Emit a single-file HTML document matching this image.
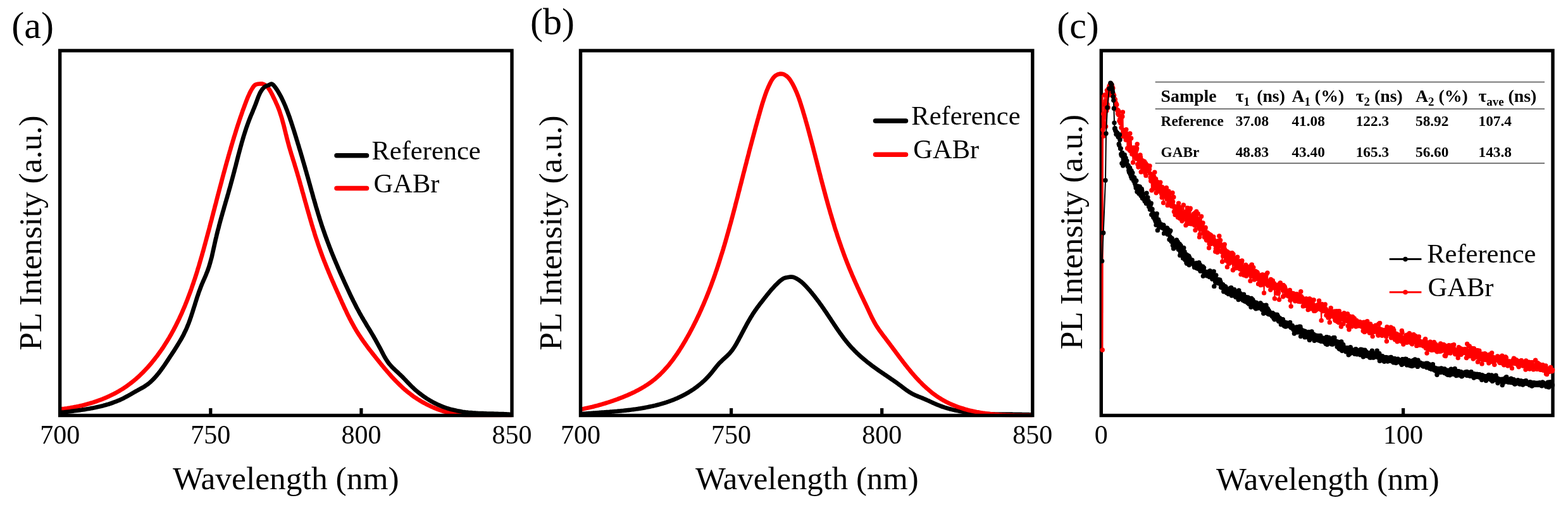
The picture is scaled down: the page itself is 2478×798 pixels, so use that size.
<!DOCTYPE html>
<html lang="en"><head><meta charset="utf-8"><title>PL and TRPL spectra</title>
<style>html,body{margin:0;padding:0;background:#fff;}body{width:2478px;height:798px;overflow:hidden;}svg{display:block;}</style>
</head><body>
<svg width="2478" height="798" viewBox="0 0 2478 798" font-family='"Liberation Serif", serif'>
<rect width="2478" height="798" fill="#fff"/>
<defs><clipPath id="ca"><rect x="92" y="77" width="719.8" height="582.2"/></clipPath><clipPath id="cb"><rect x="914.8" y="77" width="719.8" height="582.2"/></clipPath><marker id="mk" markerWidth="8" markerHeight="8" refX="4" refY="4" markerUnits="userSpaceOnUse"><circle cx="4" cy="4" r="3.7" fill="#000"/></marker><marker id="mr" markerWidth="8" markerHeight="8" refX="4" refY="4" markerUnits="userSpaceOnUse"><circle cx="4" cy="4" r="3.7" fill="#f00"/></marker></defs>
<polyline points="94.7,646.5 97.0,646.3 99.2,646.0 101.5,645.8 103.7,645.5 106.0,645.2 108.2,644.8 110.5,644.5 112.7,644.1 115.0,643.7 117.2,643.3 119.5,642.9 121.7,642.4 124.0,642.0 126.2,641.5 128.5,641.0 130.7,640.5 132.9,639.9 135.2,639.3 137.4,638.7 139.6,638.1 141.8,637.5 144.0,636.8 146.2,636.2 148.4,635.5 150.6,634.7 152.8,634.0 155.0,633.2 157.1,632.4 159.3,631.6 161.4,630.8 163.6,629.9 165.7,629.1 167.8,628.2 169.9,627.2 172.0,626.3 174.1,625.3 176.2,624.3 178.2,623.3 180.3,622.3 182.3,621.2 184.3,620.1 186.3,619.0 188.3,617.8 190.2,616.7 192.2,615.5 194.1,614.3 196.1,613.0 198.0,611.7 199.8,610.5 201.7,609.1 203.5,607.8 205.4,606.4 207.2,605.0 209.0,603.6 210.8,602.2 212.5,600.7 214.3,599.2 216.0,597.7 217.7,596.2 219.4,594.7 221.1,593.1 222.7,591.5 224.4,589.9 226.0,588.3 227.6,586.7 229.2,585.0 230.8,583.3 232.3,581.7 233.9,580.0 235.4,578.2 236.9,576.5 238.4,574.8 239.9,573.0 241.3,571.2 242.8,569.4 244.2,567.6 245.6,565.8 247.0,564.0 248.4,562.2 249.8,560.3 251.1,558.5 252.5,556.6 253.8,554.7 255.1,552.9 256.4,551.0 257.7,549.1 258.9,547.2 260.2,545.2 261.4,543.3 262.6,541.4 263.8,539.5 265.0,537.5 266.2,535.6 267.4,533.6 268.5,531.6 269.6,529.7 270.8,527.7 271.9,525.7 273.0,523.7 274.1,521.7 275.1,519.7 276.2,517.7 277.2,515.6 278.3,513.6 279.3,511.6 280.3,509.5 281.3,507.5 282.3,505.4 283.3,503.4 284.2,501.3 285.2,499.3 286.1,497.2 287.1,495.1 288.0,493.0 288.9,490.9 289.8,488.8 290.7,486.7 291.6,484.6 292.5,482.5 293.3,480.4 294.2,478.3 295.0,476.1 295.9,474.0 296.7,471.9 297.5,469.7 298.3,467.6 299.1,465.5 299.9,463.3 300.7,461.2 301.5,459.0 302.3,456.8 303.0,454.7 303.8,452.5 304.5,450.3 305.3,448.2 306.0,446.0 306.7,443.8 307.5,441.6 308.2,439.4 308.9,437.2 309.6,435.1 310.3,432.9 311.0,430.7 311.7,428.5 312.3,426.3 313.0,424.1 313.7,421.9 314.4,419.7 315.0,417.5 315.7,415.3 316.3,413.0 317.0,410.8 317.6,408.6 318.2,406.4 318.9,404.2 319.5,402.0 320.1,399.8 320.8,397.6 321.4,395.3 322.0,393.1 322.6,390.9 323.2,388.7 323.8,386.5 324.4,384.3 325.0,382.0 325.6,379.8 326.2,377.6 326.8,375.4 327.4,373.2 328.0,371.0 328.6,368.7 329.2,366.5 329.8,364.3 330.4,362.1 331.0,359.9 331.6,357.7 332.1,355.5 332.7,353.2 333.3,351.0 333.9,348.8 334.5,346.6 335.0,344.4 335.6,342.2 336.2,340.0 336.8,337.7 337.3,335.5 337.9,333.3 338.5,331.1 339.1,328.9 339.6,326.7 340.2,324.5 340.8,322.3 341.4,320.1 341.9,317.9 342.5,315.6 343.1,313.4 343.7,311.2 344.2,309.0 344.8,306.8 345.4,304.6 346.0,302.4 346.6,300.2 347.1,298.0 347.7,295.8 348.3,293.6 348.9,291.4 349.5,289.2 350.1,287.0 350.6,284.8 351.2,282.6 351.8,280.4 352.4,278.1 353.0,275.9 353.6,273.7 354.2,271.5 354.8,269.3 355.4,267.1 356.0,264.9 356.6,262.7 357.2,260.5 357.8,258.3 358.4,256.1 359.0,253.9 359.7,251.7 360.3,249.5 360.9,247.3 361.5,245.1 362.2,242.9 362.8,240.7 363.4,238.6 364.1,236.4 364.7,234.2 365.3,232.0 366.0,229.8 366.6,227.6 367.3,225.4 367.9,223.2 368.6,221.0 369.3,218.8 369.9,216.6 370.6,214.4 371.3,212.2 372.0,210.0 372.7,207.8 373.3,205.6 374.0,203.5 374.7,201.3 375.4,199.1 376.1,196.9 376.9,194.7 377.6,192.5 378.3,190.3 379.0,188.2 379.8,186.0 380.5,183.8 381.3,181.6 382.0,179.5 382.8,177.3 383.5,175.1 384.3,173.0 385.1,170.8 385.9,168.7 386.7,166.5 387.5,164.4 388.3,162.3 389.1,160.1 389.9,158.0 390.8,155.9 391.6,153.8 392.5,151.7 393.5,149.6 394.4,147.5 395.4,145.5 396.5,143.4 397.7,141.4 398.9,139.4 400.2,137.4 401.6,135.6 403.3,134.1 405.3,133.2 407.5,132.8 409.9,132.5 412.2,132.3 414.5,132.4 416.7,133.1 418.7,134.2 420.6,135.6 422.2,137.1 423.8,138.8 425.1,140.7 426.4,142.6 427.5,144.5 428.6,146.5 429.7,148.6 430.7,150.6 431.7,152.7 432.7,154.8 433.7,156.8 434.7,158.9 435.7,161.0 436.6,163.1 437.6,165.2 438.5,167.3 439.3,169.4 440.2,171.5 441.0,173.7 441.8,175.8 442.5,178.0 443.2,180.2 443.9,182.3 444.6,184.5 445.3,186.7 445.9,188.9 446.5,191.1 447.1,193.3 447.7,195.5 448.3,197.7 448.9,200.0 449.4,202.2 450.0,204.4 450.5,206.6 451.1,208.9 451.6,211.1 452.2,213.3 452.7,215.6 453.3,217.8 453.8,220.0 454.4,222.2 455.0,224.4 455.6,226.7 456.2,228.9 456.8,231.1 457.4,233.3 458.1,235.5 458.7,237.7 459.4,239.8 460.0,242.0 460.7,244.2 461.4,246.4 462.1,248.6 462.7,250.8 463.4,252.9 464.1,255.1 464.8,257.3 465.5,259.5 466.1,261.7 466.8,263.9 467.5,266.1 468.1,268.2 468.8,270.4 469.4,272.6 470.1,274.8 470.7,277.0 471.4,279.2 472.0,281.4 472.6,283.6 473.3,285.8 473.9,288.0 474.5,290.2 475.1,292.4 475.8,294.6 476.4,296.8 477.0,299.0 477.6,301.3 478.2,303.5 478.9,305.7 479.5,307.9 480.1,310.1 480.7,312.3 481.3,314.5 481.9,316.7 482.5,318.9 483.2,321.1 483.8,323.3 484.4,325.5 485.0,327.7 485.6,329.9 486.3,332.2 486.9,334.4 487.5,336.6 488.2,338.8 488.8,341.0 489.4,343.2 490.1,345.4 490.7,347.6 491.3,349.8 492.0,352.0 492.6,354.2 493.3,356.4 494.0,358.6 494.6,360.7 495.3,362.9 496.0,365.1 496.7,367.3 497.3,369.5 498.0,371.7 498.7,373.9 499.4,376.0 500.1,378.2 500.9,380.4 501.6,382.6 502.3,384.7 503.0,386.9 503.8,389.0 504.5,391.2 505.3,393.4 506.1,395.5 506.8,397.7 507.6,399.8 508.4,402.0 509.2,404.1 510.0,406.3 510.8,408.4 511.6,410.5 512.5,412.7 513.3,414.8 514.2,416.9 515.0,419.0 515.9,421.2 516.7,423.3 517.6,425.4 518.5,427.5 519.3,429.6 520.2,431.7 521.1,433.8 522.0,436.0 522.9,438.1 523.8,440.2 524.7,442.3 525.6,444.4 526.6,446.5 527.5,448.6 528.4,450.7 529.3,452.8 530.2,454.9 531.2,457.0 532.1,459.0 533.0,461.1 534.0,463.2 534.9,465.3 535.8,467.4 536.8,469.5 537.7,471.6 538.7,473.7 539.6,475.8 540.5,477.9 541.5,479.9 542.4,482.0 543.4,484.1 544.3,486.2 545.3,488.3 546.3,490.3 547.3,492.4 548.2,494.5 549.2,496.5 550.2,498.6 551.3,500.6 552.3,502.7 553.3,504.7 554.4,506.7 555.4,508.7 556.5,510.7 557.6,512.7 558.7,514.7 559.8,516.7 561.0,518.7 562.1,520.7 563.3,522.6 564.5,524.6 565.7,526.5 566.9,528.4 568.2,530.3 569.5,532.2 570.7,534.1 572.0,536.0 573.3,537.9 574.6,539.8 576.0,541.6 577.3,543.5 578.7,545.3 580.0,547.2 581.4,549.0 582.8,550.9 584.2,552.7 585.6,554.5 587.0,556.3 588.4,558.1 589.8,559.9 591.2,561.7 592.7,563.5 594.1,565.3 595.5,567.1 597.0,568.9 598.4,570.7 599.9,572.5 601.3,574.3 602.8,576.1 604.2,577.9 605.7,579.6 607.1,581.4 608.6,583.2 610.1,584.9 611.6,586.7 613.1,588.4 614.6,590.1 616.1,591.8 617.6,593.5 619.1,595.2 620.7,596.9 622.2,598.6 623.8,600.2 625.4,601.9 627.0,603.5 628.6,605.1 630.2,606.7 631.8,608.3 633.5,609.9 635.1,611.4 636.8,613.0 638.5,614.5 640.2,616.0 642.0,617.4 643.7,618.9 645.5,620.3 647.3,621.7 649.1,623.1 650.9,624.5 652.7,625.9 654.6,627.2 656.5,628.5 658.4,629.7 660.3,631.0 662.3,632.2 664.2,633.4 666.2,634.6 668.2,635.7 670.2,636.8 672.3,637.9 674.3,639.0 676.4,640.0 678.5,641.0 680.5,642.0 682.6,643.0 684.8,643.9 686.9,644.8 689.0,645.7 691.2,646.5 693.4,647.3 695.5,648.1 697.7,648.8 699.9,649.5 702.1,650.2 704.3,650.8 706.5,651.4 708.8,652.0 711.0,652.5 713.2,653.0 715.5,653.5 717.7,654.0 719.9,654.4 722.2,654.7 724.5,655.1 726.7,655.4 729.0,655.6 731.2,655.9 733.5,656.1 735.8,656.3 738.0,656.4 740.3,656.5 742.6,656.5 744.9,656.5 747.1,656.5 749.4,656.5 751.7,656.5 754.0,656.5 756.3,656.5 758.6,656.5 760.8,656.5 763.1,656.5 765.4,656.5 767.7,656.5 770.0,656.5 772.3,656.5 774.6,656.5 776.9,656.5 779.2,656.5 781.5,656.4 783.8,656.4 786.1,656.3 788.4,656.3 790.7,656.3 793.0,656.2 795.2,656.2 797.5,656.2 799.8,656.3 802.1,656.3 804.4,656.3 806.7,656.4 809.0,656.5" clip-path="url(#ca)" fill="none" stroke="#f00" stroke-width="6.7" stroke-linejoin="round"/>
<polyline points="94.7,652.2 97.0,651.9 99.2,651.6 101.5,651.4 103.7,651.1 106.0,650.8 108.3,650.5 110.5,650.2 112.8,649.9 115.1,649.6 117.4,649.3 119.6,649.0 121.9,648.7 124.2,648.4 126.5,648.1 128.8,647.8 131.0,647.4 133.3,647.1 135.6,646.7 137.9,646.3 140.1,646.0 142.4,645.6 144.7,645.1 146.9,644.7 149.2,644.3 151.4,643.8 153.7,643.3 155.9,642.8 158.2,642.3 160.4,641.7 162.6,641.2 164.8,640.6 167.0,640.0 169.2,639.3 171.4,638.7 173.6,638.0 175.8,637.3 177.9,636.5 180.1,635.7 182.2,634.9 184.3,634.1 186.5,633.2 188.6,632.4 190.6,631.4 192.7,630.5 194.8,629.5 196.8,628.4 198.9,627.3 200.9,626.2 202.9,625.1 204.9,624.0 206.9,622.8 208.9,621.6 210.9,620.5 212.9,619.3 214.9,618.2 216.9,617.1 218.9,616.0 220.9,614.9 222.9,613.8 224.9,612.7 226.9,611.6 228.8,610.4 230.7,609.1 232.6,607.8 234.4,606.5 236.2,605.0 237.9,603.5 239.6,601.9 241.3,600.3 242.9,598.6 244.5,596.9 246.0,595.2 247.5,593.5 249.0,591.7 250.5,589.9 251.9,588.1 253.3,586.3 254.6,584.5 256.0,582.6 257.3,580.8 258.6,578.9 259.9,577.1 261.2,575.2 262.4,573.3 263.7,571.4 265.0,569.5 266.2,567.6 267.5,565.7 268.7,563.7 270.0,561.8 271.3,559.9 272.5,558.0 273.8,556.1 275.1,554.1 276.3,552.2 277.6,550.2 278.8,548.3 280.0,546.3 281.2,544.4 282.4,542.4 283.6,540.4 284.8,538.4 285.9,536.5 287.1,534.5 288.2,532.4 289.3,530.4 290.3,528.4 291.3,526.3 292.3,524.3 293.3,522.2 294.3,520.1 295.2,518.0 296.1,515.9 296.9,513.8 297.8,511.7 298.6,509.6 299.4,507.4 300.2,505.3 300.9,503.1 301.7,500.9 302.4,498.8 303.1,496.6 303.8,494.4 304.5,492.2 305.2,490.0 305.9,487.8 306.6,485.6 307.3,483.5 308.0,481.3 308.6,479.1 309.3,476.9 310.0,474.7 310.7,472.5 311.4,470.3 312.1,468.1 312.9,466.0 313.6,463.8 314.3,461.6 315.1,459.5 315.9,457.3 316.7,455.2 317.5,453.0 318.4,450.9 319.2,448.8 320.1,446.7 321.0,444.6 321.9,442.5 322.9,440.4 323.8,438.3 324.7,436.2 325.6,434.0 326.4,431.9 327.3,429.8 328.1,427.7 328.9,425.5 329.6,423.4 330.4,421.2 331.0,419.0 331.7,416.8 332.3,414.6 332.9,412.4 333.5,410.2 334.1,408.0 334.7,405.8 335.2,403.5 335.7,401.3 336.2,399.0 336.7,396.8 337.2,394.6 337.7,392.3 338.2,390.1 338.7,387.8 339.2,385.6 339.7,383.3 340.2,381.1 340.7,378.8 341.2,376.6 341.8,374.3 342.3,372.1 342.8,369.9 343.4,367.7 343.9,365.4 344.5,363.2 345.1,361.0 345.7,358.8 346.2,356.5 346.8,354.3 347.4,352.1 348.0,349.9 348.6,347.7 349.2,345.5 349.8,343.3 350.5,341.1 351.1,338.9 351.7,336.7 352.3,334.5 353.0,332.3 353.6,330.1 354.2,327.9 354.8,325.7 355.5,323.5 356.1,321.3 356.7,319.1 357.4,316.9 358.0,314.7 358.7,312.5 359.3,310.3 359.9,308.1 360.6,305.9 361.2,303.7 361.8,301.5 362.4,299.3 363.1,297.1 363.7,294.9 364.3,292.7 364.9,290.4 365.5,288.2 366.1,286.0 366.7,283.8 367.3,281.6 367.9,279.4 368.5,277.2 369.1,274.9 369.7,272.7 370.3,270.5 370.8,268.3 371.4,266.0 372.0,263.8 372.6,261.6 373.1,259.4 373.7,257.1 374.3,254.9 374.8,252.7 375.4,250.5 376.0,248.2 376.5,246.0 377.1,243.8 377.7,241.6 378.3,239.3 378.9,237.1 379.5,234.9 380.1,232.7 380.7,230.5 381.3,228.3 381.9,226.1 382.5,223.9 383.2,221.7 383.8,219.5 384.5,217.3 385.1,215.1 385.8,212.9 386.5,210.7 387.2,208.5 387.9,206.4 388.6,204.2 389.3,202.0 390.1,199.9 390.8,197.7 391.6,195.6 392.4,193.4 393.2,191.3 394.0,189.1 394.8,187.0 395.7,184.9 396.5,182.8 397.4,180.7 398.3,178.6 399.2,176.5 400.0,174.3 400.9,172.2 401.8,170.1 402.6,168.0 403.5,165.8 404.3,163.7 405.1,161.5 405.9,159.3 406.7,157.1 407.5,155.0 408.3,152.8 409.2,150.7 410.1,148.6 411.1,146.5 412.2,144.6 413.4,142.7 414.8,140.8 416.3,139.1 417.9,137.6 419.8,136.3 422.0,135.4 424.2,134.7 426.3,133.6 428.3,132.7 430.1,132.9 431.9,134.2 433.5,136.1 435.1,138.1 436.4,140.0 437.7,141.9 438.9,143.8 440.1,145.8 441.2,147.7 442.4,149.7 443.4,151.7 444.5,153.7 445.5,155.8 446.5,157.9 447.5,160.0 448.5,162.1 449.4,164.2 450.3,166.3 451.2,168.4 452.0,170.5 452.9,172.7 453.7,174.8 454.5,176.9 455.3,179.1 456.1,181.2 456.9,183.4 457.7,185.5 458.4,187.7 459.1,189.9 459.9,192.0 460.6,194.2 461.3,196.4 462.0,198.6 462.7,200.7 463.4,202.9 464.1,205.1 464.8,207.3 465.5,209.5 466.1,211.6 466.8,213.8 467.5,216.0 468.2,218.2 468.8,220.4 469.5,222.6 470.2,224.8 470.8,226.9 471.5,229.1 472.2,231.3 472.8,233.5 473.5,235.7 474.2,237.9 474.8,240.1 475.5,242.3 476.1,244.5 476.8,246.7 477.4,248.9 478.0,251.1 478.7,253.3 479.3,255.5 480.0,257.7 480.6,259.9 481.2,262.1 481.9,264.3 482.5,266.5 483.1,268.7 483.8,270.9 484.4,273.2 485.0,275.4 485.6,277.6 486.3,279.8 486.9,282.0 487.5,284.2 488.1,286.4 488.7,288.6 489.3,290.8 490.0,293.1 490.6,295.3 491.2,297.5 491.8,299.7 492.4,301.9 493.1,304.1 493.7,306.3 494.3,308.5 494.9,310.8 495.5,313.0 496.2,315.2 496.8,317.4 497.4,319.6 498.1,321.8 498.7,324.0 499.3,326.2 500.0,328.4 500.6,330.6 501.3,332.8 502.0,335.0 502.6,337.2 503.3,339.4 504.0,341.6 504.6,343.8 505.3,346.0 506.0,348.2 506.7,350.3 507.4,352.5 508.1,354.7 508.8,356.9 509.5,359.0 510.3,361.2 511.0,363.4 511.8,365.5 512.5,367.7 513.3,369.9 514.0,372.0 514.8,374.2 515.6,376.3 516.4,378.5 517.2,380.6 518.0,382.8 518.8,384.9 519.6,387.0 520.4,389.2 521.2,391.3 522.1,393.4 522.9,395.6 523.7,397.7 524.6,399.8 525.4,401.9 526.3,404.1 527.2,406.2 528.0,408.3 528.9,410.4 529.8,412.5 530.7,414.6 531.6,416.7 532.5,418.8 533.4,421.0 534.3,423.1 535.2,425.2 536.1,427.3 537.0,429.4 537.9,431.5 538.9,433.6 539.8,435.7 540.7,437.7 541.7,439.8 542.6,441.9 543.6,444.0 544.5,446.1 545.5,448.2 546.4,450.3 547.4,452.4 548.4,454.5 549.3,456.5 550.3,458.6 551.3,460.7 552.2,462.8 553.2,464.9 554.2,466.9 555.2,469.0 556.2,471.1 557.2,473.1 558.2,475.2 559.3,477.3 560.3,479.3 561.3,481.3 562.4,483.4 563.4,485.4 564.5,487.5 565.6,489.5 566.7,491.5 567.7,493.5 568.8,495.5 570.0,497.5 571.1,499.5 572.2,501.5 573.4,503.4 574.5,505.4 575.7,507.4 576.9,509.3 578.1,511.3 579.2,513.2 580.4,515.2 581.6,517.1 582.8,519.1 584.0,521.0 585.2,523.0 586.3,524.9 587.5,526.9 588.7,528.9 589.8,530.8 591.0,532.8 592.1,534.8 593.3,536.8 594.4,538.8 595.5,540.8 596.6,542.8 597.7,544.8 598.8,546.8 599.9,548.9 601.0,550.9 602.1,553.0 603.1,555.0 604.2,557.1 605.2,559.1 606.3,561.2 607.4,563.2 608.6,565.2 609.7,567.2 611.0,569.1 612.2,571.0 613.5,572.9 614.9,574.7 616.4,576.4 617.9,578.1 619.4,579.8 621.0,581.4 622.7,583.0 624.4,584.6 626.1,586.2 627.8,587.7 629.5,589.3 631.1,590.9 632.8,592.5 634.5,594.1 636.1,595.7 637.7,597.3 639.3,599.0 640.9,600.6 642.4,602.3 644.0,603.9 645.6,605.6 647.2,607.2 648.8,608.9 650.4,610.5 652.0,612.1 653.7,613.6 655.4,615.2 657.1,616.7 658.9,618.2 660.7,619.7 662.5,621.1 664.3,622.5 666.1,623.9 668.0,625.3 669.8,626.6 671.7,627.9 673.7,629.2 675.6,630.5 677.5,631.7 679.5,632.9 681.5,634.0 683.5,635.1 685.5,636.2 687.6,637.3 689.6,638.3 691.7,639.3 693.8,640.2 695.9,641.1 698.0,642.0 700.1,642.8 702.3,643.6 704.4,644.4 706.6,645.1 708.8,645.8 710.9,646.4 713.1,647.1 715.4,647.6 717.6,648.1 719.8,648.6 722.0,649.1 724.3,649.5 726.5,649.9 728.8,650.3 731.0,650.7 733.3,651.0 735.6,651.3 737.9,651.5 740.1,651.8 742.4,652.0 744.7,652.2 747.0,652.4 749.3,652.5 751.6,652.7 753.9,652.8 756.3,653.0 758.6,653.1 760.9,653.2 763.2,653.2 765.5,653.3 767.8,653.4 770.1,653.5 772.5,653.5 774.8,653.6 777.1,653.6 779.4,653.7 781.7,653.8 784.0,653.8 786.3,653.9 788.6,654.0 790.9,654.0 793.2,654.1 795.4,654.2 797.7,654.3 800.0,654.4 802.2,654.5 804.5,654.7 806.7,654.8 809.0,655.0" clip-path="url(#ca)" fill="none" stroke="#000" stroke-width="6.7" stroke-linejoin="round"/>
<polyline points="917.5,654.2 919.0,654.1 920.4,654.0 921.8,653.9 923.3,653.8 924.7,653.6 926.1,653.5 927.6,653.4 929.0,653.3 930.5,653.2 931.9,653.1 933.4,653.0 934.8,652.9 936.3,652.8 937.7,652.7 939.2,652.6 940.7,652.5 942.1,652.4 943.6,652.3 945.1,652.2 946.6,652.0 948.0,651.9 949.5,651.8 951.0,651.7 952.5,651.6 954.0,651.5 955.5,651.4 956.9,651.3 958.4,651.2 959.9,651.1 961.4,651.0 962.9,650.9 964.4,650.7 965.9,650.6 967.4,650.5 968.9,650.4 970.4,650.3 971.9,650.1 973.4,650.0 974.9,649.9 976.4,649.7 977.9,649.6 979.4,649.5 980.9,649.3 982.4,649.2 983.9,649.0 985.4,648.9 986.9,648.7 988.4,648.6 989.9,648.4 991.4,648.2 992.9,648.1 994.4,647.9 995.9,647.7 997.4,647.5 998.9,647.3 1000.4,647.1 1001.9,646.9 1003.4,646.7 1004.9,646.5 1006.4,646.3 1007.9,646.1 1009.3,645.8 1010.8,645.6 1012.3,645.4 1013.8,645.1 1015.3,644.9 1016.8,644.6 1018.2,644.4 1019.7,644.1 1021.2,643.8 1022.7,643.5 1024.1,643.2 1025.6,642.9 1027.1,642.6 1028.5,642.3 1030.0,642.0 1031.4,641.7 1032.9,641.4 1034.3,641.0 1035.8,640.7 1037.2,640.3 1038.7,639.9 1040.1,639.6 1041.5,639.2 1043.0,638.8 1044.4,638.4 1045.8,638.0 1047.3,637.6 1048.7,637.1 1050.1,636.7 1051.5,636.3 1052.9,635.8 1054.3,635.3 1055.7,634.9 1057.1,634.4 1058.5,633.9 1059.9,633.4 1061.2,632.9 1062.6,632.4 1064.0,631.8 1065.4,631.3 1066.7,630.7 1068.1,630.2 1069.4,629.6 1070.8,629.0 1072.1,628.4 1073.4,627.8 1074.8,627.1 1076.1,626.5 1077.4,625.9 1078.7,625.2 1080.0,624.5 1081.3,623.9 1082.6,623.2 1083.9,622.5 1085.2,621.7 1086.5,621.0 1087.8,620.3 1089.0,619.5 1090.3,618.7 1091.5,617.9 1092.8,617.1 1094.0,616.3 1095.3,615.5 1096.5,614.7 1097.7,613.8 1098.9,613.0 1100.1,612.1 1101.3,611.2 1102.5,610.3 1103.7,609.3 1104.9,608.4 1106.0,607.5 1107.2,606.5 1108.4,605.5 1109.5,604.5 1110.6,603.5 1111.7,602.5 1112.9,601.5 1113.9,600.4 1115.0,599.4 1116.1,598.3 1117.2,597.2 1118.2,596.2 1119.2,595.1 1120.2,594.0 1121.2,592.8 1122.2,591.7 1123.2,590.6 1124.2,589.4 1125.1,588.3 1126.0,587.1 1126.9,586.0 1127.8,584.8 1128.7,583.7 1129.7,582.5 1130.6,581.3 1131.5,580.2 1132.4,579.0 1133.3,577.9 1134.3,576.8 1135.2,575.7 1136.2,574.6 1137.2,573.5 1138.2,572.4 1139.3,571.4 1140.4,570.4 1141.5,569.3 1142.6,568.3 1143.7,567.3 1144.8,566.3 1145.9,565.3 1147.0,564.3 1148.1,563.3 1149.2,562.3 1150.3,561.2 1151.3,560.2 1152.4,559.1 1153.4,558.0 1154.3,556.9 1155.3,555.7 1156.2,554.6 1157.1,553.4 1158.0,552.2 1158.8,551.0 1159.7,549.7 1160.5,548.5 1161.3,547.2 1162.1,546.0 1162.8,544.7 1163.6,543.4 1164.3,542.1 1165.0,540.8 1165.8,539.5 1166.5,538.2 1167.2,536.9 1167.9,535.5 1168.6,534.2 1169.3,532.9 1170.0,531.6 1170.7,530.3 1171.4,529.0 1172.1,527.6 1172.8,526.3 1173.5,525.0 1174.2,523.7 1174.9,522.4 1175.6,521.0 1176.3,519.7 1177.0,518.4 1177.7,517.1 1178.4,515.8 1179.1,514.5 1179.8,513.2 1180.5,511.9 1181.2,510.6 1182.0,509.3 1182.7,508.0 1183.4,506.7 1184.2,505.4 1184.9,504.1 1185.7,502.9 1186.4,501.6 1187.2,500.3 1188.0,499.1 1188.7,497.8 1189.5,496.6 1190.3,495.3 1191.1,494.1 1192.0,492.8 1192.8,491.6 1193.6,490.4 1194.5,489.2 1195.4,488.0 1196.2,486.7 1197.1,485.5 1198.0,484.4 1198.9,483.2 1199.8,482.0 1200.7,480.8 1201.6,479.6 1202.5,478.4 1203.4,477.3 1204.4,476.1 1205.3,474.9 1206.2,473.7 1207.1,472.6 1208.0,471.4 1209.0,470.2 1209.9,469.1 1210.8,467.9 1211.7,466.7 1212.7,465.6 1213.6,464.4 1214.5,463.3 1215.5,462.1 1216.4,461.0 1217.4,459.8 1218.3,458.7 1219.3,457.6 1220.3,456.5 1221.3,455.4 1222.3,454.3 1223.3,453.2 1224.3,452.1 1225.3,451.0 1226.4,450.0 1227.4,448.9 1228.5,447.9 1229.6,446.8 1230.7,445.8 1231.8,444.8 1232.9,443.8 1234.1,442.9 1235.3,442.0 1236.5,441.1 1237.7,440.3 1239.0,439.7 1240.4,439.2 1241.8,438.8 1243.3,438.5 1244.7,438.3 1246.2,438.0 1247.7,437.8 1249.1,437.6 1250.6,437.6 1252.0,437.7 1253.4,437.9 1254.8,438.4 1256.2,438.9 1257.6,439.6 1258.9,440.3 1260.2,441.0 1261.5,441.8 1262.7,442.6 1263.9,443.5 1265.1,444.4 1266.3,445.3 1267.4,446.3 1268.5,447.2 1269.6,448.3 1270.7,449.3 1271.7,450.3 1272.8,451.4 1273.8,452.5 1274.8,453.6 1275.8,454.7 1276.8,455.8 1277.8,456.9 1278.8,458.0 1279.8,459.1 1280.7,460.3 1281.7,461.4 1282.6,462.6 1283.6,463.7 1284.5,464.9 1285.5,466.0 1286.4,467.2 1287.3,468.3 1288.2,469.5 1289.1,470.7 1290.0,471.9 1290.9,473.0 1291.8,474.2 1292.7,475.4 1293.6,476.6 1294.5,477.8 1295.3,479.0 1296.2,480.2 1297.1,481.4 1297.9,482.6 1298.8,483.8 1299.7,485.1 1300.5,486.3 1301.4,487.5 1302.2,488.7 1303.0,490.0 1303.9,491.2 1304.7,492.4 1305.6,493.6 1306.4,494.9 1307.2,496.1 1308.0,497.3 1308.9,498.6 1309.7,499.8 1310.5,501.1 1311.3,502.3 1312.2,503.5 1313.0,504.8 1313.8,506.0 1314.6,507.3 1315.4,508.5 1316.3,509.7 1317.1,511.0 1317.9,512.2 1318.7,513.5 1319.6,514.7 1320.4,515.9 1321.2,517.2 1322.0,518.4 1322.9,519.6 1323.7,520.8 1324.6,522.1 1325.4,523.3 1326.3,524.5 1327.1,525.7 1328.0,526.9 1328.8,528.1 1329.7,529.3 1330.6,530.5 1331.5,531.7 1332.3,532.9 1333.2,534.1 1334.1,535.3 1335.0,536.4 1336.0,537.6 1336.9,538.8 1337.8,539.9 1338.7,541.1 1339.7,542.2 1340.6,543.3 1341.6,544.5 1342.6,545.6 1343.5,546.7 1344.5,547.8 1345.5,548.9 1346.5,550.0 1347.5,551.1 1348.6,552.1 1349.6,553.2 1350.7,554.3 1351.7,555.3 1352.8,556.4 1353.8,557.4 1354.9,558.4 1356.0,559.5 1357.1,560.5 1358.2,561.5 1359.3,562.5 1360.4,563.5 1361.5,564.5 1362.7,565.4 1363.8,566.4 1365.0,567.4 1366.1,568.3 1367.3,569.3 1368.4,570.2 1369.6,571.2 1370.7,572.1 1371.9,573.0 1373.1,574.0 1374.3,574.9 1375.5,575.8 1376.7,576.7 1377.8,577.6 1379.0,578.5 1380.2,579.4 1381.4,580.2 1382.6,581.1 1383.9,582.0 1385.1,582.9 1386.3,583.7 1387.5,584.6 1388.7,585.4 1389.9,586.3 1391.1,587.1 1392.4,587.9 1393.6,588.8 1394.8,589.6 1396.0,590.4 1397.2,591.3 1398.5,592.1 1399.7,592.9 1400.9,593.7 1402.1,594.6 1403.3,595.4 1404.6,596.2 1405.8,597.1 1407.0,597.9 1408.2,598.7 1409.4,599.6 1410.7,600.4 1411.9,601.2 1413.1,602.1 1414.3,602.9 1415.5,603.8 1416.7,604.6 1417.9,605.5 1419.1,606.4 1420.3,607.3 1421.5,608.2 1422.7,609.0 1423.9,609.9 1425.1,610.9 1426.3,611.8 1427.5,612.7 1428.7,613.6 1429.9,614.5 1431.1,615.4 1432.3,616.3 1433.6,617.1 1434.8,618.0 1436.0,618.8 1437.3,619.6 1438.5,620.4 1439.8,621.1 1441.1,621.9 1442.4,622.6 1443.7,623.2 1445.0,623.9 1446.4,624.5 1447.7,625.1 1449.1,625.6 1450.4,626.2 1451.8,626.8 1453.2,627.3 1454.5,627.9 1455.9,628.4 1457.3,629.0 1458.7,629.5 1460.0,630.1 1461.4,630.7 1462.8,631.3 1464.2,631.9 1465.5,632.5 1466.9,633.1 1468.3,633.7 1469.6,634.4 1471.0,635.0 1472.4,635.6 1473.7,636.3 1475.1,636.9 1476.5,637.5 1477.8,638.1 1479.2,638.7 1480.6,639.3 1482.0,639.8 1483.3,640.4 1484.7,640.9 1486.1,641.5 1487.5,642.0 1488.9,642.5 1490.3,643.0 1491.7,643.4 1493.1,643.9 1494.6,644.3 1496.0,644.8 1497.4,645.2 1498.8,645.6 1500.2,646.0 1501.7,646.4 1503.1,646.7 1504.5,647.1 1506.0,647.5 1507.4,647.8 1508.8,648.1 1510.3,648.4 1511.7,648.7 1513.2,649.0 1514.6,649.3 1516.1,649.6 1517.5,649.9 1519.0,650.1 1520.5,650.4 1521.9,650.6 1523.4,650.8 1524.8,651.1 1526.3,651.3 1527.8,651.5 1529.3,651.7 1530.7,651.8 1532.2,652.0 1533.7,652.2 1535.2,652.3 1536.6,652.5 1538.1,652.6 1539.6,652.8 1541.1,652.9 1542.6,653.0 1544.1,653.2 1545.5,653.3 1547.0,653.4 1548.5,653.5 1550.0,653.6 1551.5,653.7 1553.0,653.8 1554.5,653.8 1556.0,653.9 1557.5,654.0 1559.0,654.0 1560.5,654.1 1562.0,654.2 1563.5,654.2 1565.0,654.3 1566.5,654.3 1568.0,654.4 1569.4,654.4 1570.9,654.4 1572.4,654.5 1573.9,654.5 1575.4,654.5 1576.9,654.5 1578.4,654.6 1579.9,654.6 1581.4,654.6 1582.9,654.6 1584.4,654.6 1585.9,654.6 1587.4,654.7 1588.9,654.7 1590.4,654.7 1591.9,654.7 1593.4,654.7 1594.9,654.7 1596.4,654.7 1597.9,654.7 1599.4,654.7 1600.9,654.8 1602.3,654.8 1603.8,654.8 1605.3,654.8 1606.8,654.8 1608.3,654.8 1609.8,654.9 1611.2,654.9 1612.7,654.9 1614.2,654.9 1615.7,655.0 1617.2,655.0 1618.6,655.0 1620.1,655.1 1621.6,655.1 1623.0,655.1 1624.5,655.2 1626.0,655.2 1627.4,655.3 1628.9,655.4 1630.3,655.4 1631.8,655.5" clip-path="url(#cb)" fill="none" stroke="#000" stroke-width="6.7" stroke-linejoin="round"/>
<polyline points="917.5,647.0 919.8,646.5 922.1,646.1 924.4,645.6 926.7,645.1 929.0,644.6 931.3,644.0 933.5,643.5 935.8,643.0 938.0,642.4 940.3,641.8 942.5,641.3 944.8,640.7 947.0,640.0 949.2,639.4 951.5,638.8 953.7,638.1 955.9,637.5 958.1,636.8 960.3,636.1 962.5,635.4 964.7,634.7 966.9,633.9 969.1,633.2 971.3,632.4 973.5,631.6 975.7,630.8 977.8,630.0 980.0,629.2 982.2,628.3 984.4,627.5 986.5,626.6 988.7,625.7 990.9,624.8 993.0,623.9 995.2,622.9 997.3,621.9 999.5,620.9 1001.6,619.9 1003.7,618.9 1005.8,617.8 1007.9,616.8 1009.9,615.6 1012.0,614.5 1014.0,613.4 1016.1,612.2 1018.1,611.0 1020.0,609.7 1022.0,608.5 1023.9,607.2 1025.9,605.9 1027.7,604.5 1029.6,603.2 1031.5,601.8 1033.3,600.3 1035.1,598.9 1036.8,597.4 1038.6,595.9 1040.3,594.3 1042.0,592.7 1043.6,591.2 1045.3,589.5 1046.9,587.9 1048.5,586.2 1050.1,584.5 1051.6,582.8 1053.2,581.1 1054.7,579.3 1056.2,577.6 1057.7,575.8 1059.1,573.9 1060.6,572.1 1062.0,570.3 1063.4,568.4 1064.8,566.5 1066.1,564.6 1067.5,562.7 1068.8,560.8 1070.2,558.9 1071.5,556.9 1072.8,555.0 1074.0,553.0 1075.3,551.0 1076.5,549.0 1077.8,547.1 1079.0,545.0 1080.2,543.0 1081.4,541.0 1082.6,539.0 1083.8,537.0 1084.9,534.9 1086.1,532.9 1087.2,530.9 1088.4,528.8 1089.5,526.8 1090.6,524.7 1091.7,522.7 1092.8,520.6 1093.9,518.5 1095.0,516.5 1096.0,514.4 1097.1,512.3 1098.1,510.2 1099.2,508.2 1100.2,506.1 1101.2,504.0 1102.2,501.9 1103.2,499.8 1104.2,497.7 1105.2,495.6 1106.1,493.5 1107.1,491.3 1108.1,489.2 1109.0,487.1 1109.9,485.0 1110.9,482.9 1111.8,480.7 1112.7,478.6 1113.6,476.4 1114.5,474.3 1115.4,472.2 1116.3,470.0 1117.2,467.9 1118.0,465.7 1118.9,463.6 1119.7,461.4 1120.6,459.2 1121.4,457.1 1122.2,454.9 1123.1,452.7 1123.9,450.6 1124.7,448.4 1125.5,446.2 1126.3,444.0 1127.1,441.8 1127.9,439.6 1128.7,437.5 1129.4,435.3 1130.2,433.1 1130.9,430.9 1131.7,428.7 1132.5,426.5 1133.2,424.3 1133.9,422.1 1134.7,419.9 1135.4,417.6 1136.1,415.4 1136.8,413.2 1137.5,411.0 1138.2,408.8 1138.9,406.6 1139.6,404.3 1140.3,402.1 1141.0,399.9 1141.7,397.7 1142.4,395.4 1143.1,393.2 1143.7,391.0 1144.4,388.8 1145.1,386.5 1145.7,384.3 1146.4,382.0 1147.0,379.8 1147.7,377.6 1148.3,375.3 1148.9,373.1 1149.6,370.8 1150.2,368.6 1150.8,366.4 1151.5,364.1 1152.1,361.9 1152.7,359.6 1153.3,357.4 1153.9,355.1 1154.6,352.9 1155.2,350.6 1155.8,348.4 1156.4,346.1 1157.0,343.8 1157.6,341.6 1158.2,339.3 1158.8,337.1 1159.4,334.8 1160.0,332.6 1160.6,330.3 1161.2,328.1 1161.8,325.8 1162.3,323.5 1162.9,321.3 1163.5,319.0 1164.1,316.8 1164.7,314.5 1165.3,312.3 1165.9,310.0 1166.4,307.7 1167.0,305.5 1167.6,303.2 1168.2,301.0 1168.8,298.7 1169.3,296.4 1169.9,294.2 1170.5,291.9 1171.1,289.7 1171.7,287.4 1172.2,285.2 1172.8,282.9 1173.4,280.6 1174.0,278.4 1174.5,276.1 1175.1,273.9 1175.7,271.6 1176.3,269.4 1176.9,267.1 1177.4,264.8 1178.0,262.6 1178.6,260.3 1179.2,258.1 1179.8,255.8 1180.3,253.6 1180.9,251.3 1181.5,249.1 1182.1,246.8 1182.7,244.6 1183.3,242.3 1183.8,240.0 1184.4,237.8 1185.0,235.5 1185.6,233.3 1186.2,231.0 1186.8,228.8 1187.4,226.5 1188.0,224.3 1188.6,222.0 1189.2,219.8 1189.8,217.5 1190.4,215.3 1191.0,213.1 1191.6,210.8 1192.2,208.6 1192.8,206.3 1193.4,204.1 1194.0,201.8 1194.6,199.6 1195.3,197.3 1195.9,195.1 1196.5,192.9 1197.1,190.6 1197.7,188.4 1198.4,186.2 1199.0,183.9 1199.6,181.7 1200.3,179.4 1200.9,177.2 1201.5,175.0 1202.2,172.7 1202.8,170.5 1203.5,168.3 1204.1,166.1 1204.8,163.8 1205.5,161.6 1206.2,159.4 1206.9,157.2 1207.6,155.0 1208.4,152.8 1209.1,150.6 1209.9,148.4 1210.7,146.2 1211.5,144.0 1212.4,141.8 1213.3,139.7 1214.2,137.5 1215.2,135.4 1216.2,133.3 1217.2,131.1 1218.3,129.0 1219.4,127.0 1220.7,125.0 1222.1,123.1 1223.7,121.3 1225.4,119.7 1227.4,118.5 1229.4,117.5 1231.6,116.9 1233.8,116.6 1236.0,116.8 1238.1,117.3 1240.2,118.3 1242.2,119.5 1244.1,121.0 1245.8,122.7 1247.4,124.5 1248.8,126.4 1250.0,128.4 1251.2,130.4 1252.4,132.4 1253.5,134.5 1254.6,136.6 1255.6,138.7 1256.6,140.8 1257.5,142.9 1258.5,145.0 1259.4,147.1 1260.2,149.3 1261.1,151.5 1261.9,153.6 1262.7,155.8 1263.4,158.0 1264.2,160.2 1264.9,162.4 1265.6,164.6 1266.3,166.9 1267.0,169.1 1267.7,171.3 1268.4,173.5 1269.1,175.8 1269.7,178.0 1270.4,180.2 1271.1,182.5 1271.7,184.7 1272.4,186.9 1273.0,189.2 1273.6,191.4 1274.3,193.7 1274.9,195.9 1275.5,198.1 1276.2,200.4 1276.8,202.6 1277.4,204.9 1278.0,207.1 1278.6,209.4 1279.2,211.6 1279.8,213.9 1280.4,216.1 1281.0,218.4 1281.6,220.6 1282.2,222.9 1282.8,225.1 1283.4,227.4 1284.0,229.6 1284.6,231.9 1285.2,234.1 1285.7,236.4 1286.3,238.6 1286.9,240.9 1287.5,243.2 1288.1,245.4 1288.6,247.7 1289.2,249.9 1289.8,252.2 1290.4,254.4 1291.0,256.7 1291.5,258.9 1292.1,261.2 1292.7,263.5 1293.3,265.7 1293.8,268.0 1294.4,270.2 1295.0,272.5 1295.6,274.7 1296.2,277.0 1296.8,279.3 1297.3,281.5 1297.9,283.8 1298.5,286.0 1299.1,288.3 1299.7,290.5 1300.3,292.8 1300.9,295.0 1301.5,297.3 1302.1,299.5 1302.7,301.8 1303.3,304.0 1303.9,306.3 1304.5,308.5 1305.1,310.8 1305.7,313.0 1306.3,315.3 1307.0,317.5 1307.6,319.8 1308.2,322.0 1308.8,324.2 1309.5,326.5 1310.1,328.7 1310.8,331.0 1311.4,333.2 1312.0,335.4 1312.7,337.7 1313.4,339.9 1314.0,342.1 1314.7,344.4 1315.3,346.6 1316.0,348.8 1316.7,351.0 1317.4,353.3 1318.1,355.5 1318.7,357.7 1319.4,359.9 1320.1,362.2 1320.8,364.4 1321.6,366.6 1322.3,368.8 1323.0,371.0 1323.7,373.2 1324.4,375.4 1325.2,377.6 1325.9,379.8 1326.7,382.0 1327.4,384.2 1328.2,386.4 1329.0,388.6 1329.7,390.8 1330.5,393.0 1331.3,395.2 1332.1,397.4 1332.9,399.6 1333.7,401.8 1334.5,404.0 1335.3,406.1 1336.1,408.3 1337.0,410.5 1337.8,412.6 1338.6,414.8 1339.5,417.0 1340.4,419.1 1341.2,421.3 1342.1,423.5 1343.0,425.6 1343.9,427.8 1344.8,429.9 1345.7,432.1 1346.6,434.2 1347.5,436.4 1348.5,438.5 1349.4,440.6 1350.3,442.8 1351.3,444.9 1352.2,447.0 1353.2,449.2 1354.2,451.3 1355.1,453.4 1356.1,455.5 1357.1,457.6 1358.1,459.8 1359.0,461.9 1360.0,464.0 1361.0,466.1 1362.0,468.2 1363.0,470.3 1364.0,472.4 1365.0,474.5 1366.0,476.6 1367.0,478.7 1368.0,480.8 1369.0,482.9 1370.0,485.0 1371.0,487.1 1372.0,489.2 1372.9,491.3 1373.9,493.4 1374.9,495.5 1375.9,497.6 1376.9,499.7 1377.9,501.8 1379.0,503.8 1380.0,505.9 1381.1,507.9 1382.2,510.0 1383.4,512.0 1384.5,514.0 1385.8,516.0 1387.1,517.9 1388.4,519.9 1389.7,521.8 1391.1,523.7 1392.5,525.6 1393.9,527.5 1395.3,529.4 1396.7,531.3 1398.2,533.2 1399.6,535.0 1401.0,536.9 1402.4,538.8 1403.8,540.6 1405.2,542.5 1406.6,544.3 1408.0,546.2 1409.4,548.0 1410.8,549.9 1412.1,551.7 1413.5,553.6 1414.9,555.4 1416.2,557.3 1417.6,559.1 1419.0,561.0 1420.3,562.8 1421.7,564.6 1423.1,566.5 1424.5,568.3 1425.9,570.1 1427.3,572.0 1428.7,573.8 1430.1,575.6 1431.5,577.4 1433.0,579.2 1434.4,581.1 1435.9,582.9 1437.4,584.7 1438.9,586.5 1440.4,588.3 1441.9,590.1 1443.5,591.9 1445.0,593.7 1446.6,595.4 1448.2,597.2 1449.8,598.9 1451.4,600.6 1453.0,602.3 1454.7,604.0 1456.4,605.7 1458.0,607.4 1459.7,609.0 1461.4,610.6 1463.2,612.2 1464.9,613.8 1466.7,615.3 1468.4,616.8 1470.2,618.3 1472.0,619.8 1473.9,621.3 1475.7,622.7 1477.6,624.0 1479.5,625.4 1481.4,626.7 1483.3,628.0 1485.2,629.2 1487.2,630.5 1489.2,631.6 1491.2,632.8 1493.2,633.9 1495.2,635.0 1497.3,636.0 1499.3,637.0 1501.4,638.0 1503.5,638.9 1505.6,639.8 1507.7,640.7 1509.9,641.5 1512.0,642.4 1514.2,643.2 1516.4,643.9 1518.6,644.6 1520.8,645.3 1523.0,646.0 1525.2,646.7 1527.4,647.3 1529.7,647.9 1531.9,648.5 1534.2,649.0 1536.5,649.5 1538.8,650.0 1541.0,650.5 1543.3,651.0 1545.7,651.4 1548.0,651.8 1550.3,652.2 1552.6,652.6 1554.9,652.9 1557.3,653.2 1559.6,653.5 1561.9,653.8 1564.3,654.1 1566.6,654.4 1569.0,654.6 1571.3,654.8 1573.7,655.0 1576.0,655.2 1578.4,655.4 1580.7,655.5 1583.1,655.7 1585.4,655.8 1587.8,655.9 1590.1,656.1 1592.5,656.2 1594.8,656.2 1597.2,656.3 1599.5,656.4 1601.8,656.4 1604.2,656.5 1606.5,656.5 1608.8,656.5 1611.1,656.5 1613.4,656.5 1615.7,656.5 1618.0,656.5 1620.3,656.5 1622.6,656.5 1624.9,656.5 1627.1,656.5 1629.4,656.5 1631.6,656.5" clip-path="url(#cb)" fill="none" stroke="#f00" stroke-width="6.7" stroke-linejoin="round"/>
<rect x="1740.3" y="80.0" width="713.7" height="576.5" fill="none" stroke="#000" stroke-width="5.4"/>
<line x1="1742" y1="553" x2="1742.3" y2="150" stroke="#f00" stroke-width="2.6"/>
<polyline points="1742.2,553.0 1743.0,205.0 1743.5,180.0 1744.0,215.0 1744.6,165.0 1745.2,195.0 1745.8,150.0 1746.4,185.0 1747.0,160.0 1747.6,200.0 1748.2,150.0 1748.8,175.0 1749.4,143.0 1750.0,165.0 1750.6,148.0 1751.2,170.0 1751.8,140.0 1752.4,150.0 1753.0,136.0 1753.6,146.0 1754.2,134.0 1754.8,150.0 1755.4,132.0 1756.0,142.0 1757.0,134.3 1757.6,136.2 1758.2,139.3 1758.8,139.3 1759.4,148.4 1760.0,150.6 1760.6,150.5 1761.2,156.0 1761.8,157.4 1762.4,157.3 1763.0,168.4 1763.6,163.0 1764.2,165.3 1764.8,165.4 1765.4,173.9 1766.0,173.4 1766.6,179.5 1767.2,174.7 1767.8,181.6 1768.4,176.7 1769.0,191.2 1769.6,188.6 1770.2,191.8 1770.8,194.5 1771.4,184.1 1772.0,201.8 1772.6,215.0 1773.2,183.4 1773.8,184.3 1774.4,177.2 1775.0,210.6 1775.6,205.8 1776.2,215.7 1776.8,214.1 1777.4,211.0 1778.0,213.1 1778.6,210.5 1779.2,221.0 1779.8,204.8 1780.4,212.4 1781.0,219.6 1781.6,234.5 1782.2,213.3 1782.8,211.8 1783.4,217.6 1784.0,232.2 1784.6,222.9 1785.2,237.6 1785.8,211.0 1786.4,238.2 1787.0,238.5 1787.6,218.4 1788.2,233.2 1788.8,243.5 1789.4,234.8 1790.0,243.8 1790.6,256.8 1791.2,239.8 1791.8,236.2 1792.4,233.1 1793.0,246.4 1793.6,240.3 1794.2,241.6 1794.8,243.3 1795.4,250.8 1796.0,237.3 1796.6,234.4 1797.2,227.8 1797.8,259.6 1798.4,251.0 1799.0,264.1 1799.6,252.1 1800.2,246.8 1800.8,257.9 1801.4,254.0 1802.0,244.9 1802.6,248.7 1803.2,271.7 1803.8,262.9 1804.4,261.7 1805.0,256.6 1805.6,253.7 1806.2,267.6 1806.8,259.9 1807.4,255.1 1808.0,260.1 1808.6,255.2 1809.2,265.0 1809.8,273.5 1810.4,257.9 1811.0,277.4 1811.6,260.8 1812.2,268.4 1812.8,261.0 1813.4,267.0 1814.0,270.2 1814.6,267.2 1815.2,266.1 1815.8,267.4 1816.4,267.3 1817.0,262.3 1817.6,274.2 1818.2,280.8 1818.8,286.0 1819.4,285.0 1820.0,300.8 1820.6,284.5 1821.2,279.2 1821.8,299.1 1822.4,276.4 1823.0,293.6 1823.6,278.9 1824.2,290.2 1824.8,272.3 1825.4,296.2 1826.0,288.5 1826.6,282.7 1827.2,304.7 1827.8,298.1 1828.4,293.0 1829.0,287.4 1829.6,293.7 1830.2,293.4 1830.8,301.2 1831.4,302.4 1832.0,291.4 1832.6,293.1 1833.2,293.9 1833.8,288.1 1834.4,294.8 1835.0,299.4 1835.6,306.3 1836.2,312.0 1836.8,295.8 1837.4,307.2 1838.0,300.0 1838.6,320.5 1839.2,304.3 1839.8,309.3 1840.4,298.6 1841.0,300.2 1841.6,308.7 1842.2,304.8 1842.8,311.2 1843.4,296.8 1844.0,314.8 1844.6,303.3 1845.2,324.4 1845.8,309.4 1846.4,320.9 1847.0,302.3 1847.6,317.2 1848.2,307.8 1848.8,311.7 1849.4,316.5 1850.0,314.8 1850.6,320.3 1851.2,325.2 1851.8,325.8 1852.4,321.4 1853.0,304.7 1853.6,318.7 1854.2,324.7 1854.8,311.4 1855.4,334.6 1856.0,328.3 1856.6,329.3 1857.2,339.4 1857.8,338.1 1858.4,335.3 1859.0,326.6 1859.6,338.7 1860.2,337.5 1860.8,328.5 1861.4,343.3 1862.0,339.5 1862.6,321.1 1863.2,337.1 1863.8,326.9 1864.4,345.1 1865.0,342.8 1865.6,328.7 1866.2,330.5 1866.8,338.2 1867.4,335.9 1868.0,349.3 1868.6,343.7 1869.2,336.4 1869.8,343.1 1870.4,324.0 1871.0,341.8 1871.6,346.3 1872.2,338.9 1872.8,335.3 1873.4,345.2 1874.0,355.9 1874.6,343.1 1875.2,333.6 1875.8,353.0 1876.4,328.5 1877.0,346.5 1877.6,338.7 1878.2,350.1 1878.8,337.1 1879.4,353.4 1880.0,345.9 1880.6,331.0 1881.2,329.3 1881.8,341.7 1882.4,353.8 1883.0,345.3 1883.6,344.9 1884.2,342.8 1884.8,350.2 1885.4,347.7 1886.0,347.2 1886.6,338.0 1887.2,354.4 1887.8,356.0 1888.4,336.6 1889.0,363.7 1889.6,352.5 1890.2,344.1 1890.8,334.2 1891.4,353.7 1892.0,353.6 1892.6,345.8 1893.2,337.7 1893.8,359.8 1894.4,348.0 1895.0,349.6 1895.6,374.6 1896.2,370.2 1896.8,362.4 1897.4,353.1 1898.0,362.1 1898.6,342.0 1899.2,360.5 1899.8,355.6 1900.4,353.1 1901.0,352.3 1901.6,368.8 1902.2,366.9 1902.8,368.7 1903.4,374.8 1904.0,364.0 1904.6,362.4 1905.2,359.5 1905.8,370.6 1906.4,379.2 1907.0,373.5 1907.6,379.8 1908.2,367.8 1908.8,373.5 1909.4,372.1 1910.0,369.4 1910.6,391.7 1911.2,385.3 1911.8,370.4 1912.4,375.2 1913.0,380.7 1913.6,371.6 1914.2,385.2 1914.8,373.7 1915.4,380.6 1916.0,376.5 1916.6,380.8 1917.2,375.3 1917.8,374.1 1918.4,378.7 1919.0,381.0 1919.6,384.1 1920.2,387.0 1920.8,397.4 1921.4,392.9 1922.0,385.9 1922.6,393.0 1923.2,383.7 1923.8,398.8 1924.4,393.1 1925.0,380.5 1925.6,395.5 1926.2,396.4 1926.8,373.0 1927.4,386.7 1928.0,389.1 1928.6,379.8 1929.2,386.2 1929.8,387.6 1930.4,398.0 1931.0,397.2 1931.6,413.5 1932.2,393.6 1932.8,404.7 1933.4,398.0 1934.0,399.8 1934.6,390.8 1935.2,386.3 1935.8,394.6 1936.4,405.5 1937.0,411.6 1937.6,405.7 1938.2,405.6 1938.8,397.2 1939.4,421.9 1940.0,413.1 1940.6,401.2 1941.2,405.0 1941.8,399.3 1942.4,416.3 1943.0,409.8 1943.6,407.1 1944.2,411.0 1944.8,411.8 1945.4,406.7 1946.0,401.8 1946.6,402.1 1947.2,399.7 1947.8,414.7 1948.4,426.8 1949.0,401.7 1949.6,414.3 1950.2,416.6 1950.8,408.0 1951.4,417.3 1952.0,408.2 1952.6,423.7 1953.2,412.4 1953.8,417.4 1954.4,421.6 1955.0,414.8 1955.6,406.3 1956.2,414.9 1956.8,423.6 1957.4,418.5 1958.0,420.9 1958.6,412.8 1959.2,421.1 1959.8,425.2 1960.4,421.1 1961.0,433.5 1961.6,420.3 1962.2,415.3 1962.8,412.0 1963.4,430.2 1964.0,422.8 1964.6,430.1 1965.2,426.9 1965.8,434.8 1966.4,432.9 1967.0,422.8 1967.6,427.4 1968.2,433.0 1968.8,418.6 1969.4,436.1 1970.0,434.9 1970.6,433.8 1971.2,426.7 1971.8,430.2 1972.4,421.6 1973.0,429.3 1973.6,425.6 1974.2,430.1 1974.8,426.8 1975.4,433.4 1976.0,443.9 1976.6,422.5 1977.2,436.9 1977.8,418.8 1978.4,418.1 1979.0,431.2 1979.6,432.3 1980.2,435.3 1980.8,422.6 1981.4,432.8 1982.0,434.3 1982.6,441.8 1983.2,433.6 1983.8,437.9 1984.4,428.8 1985.0,434.1 1985.6,432.9 1986.2,440.4 1986.8,430.2 1987.4,431.6 1988.0,440.7 1988.6,448.6 1989.2,440.2 1989.8,440.1 1990.4,436.5 1991.0,445.8 1991.6,442.7 1992.2,450.5 1992.8,442.2 1993.4,434.7 1994.0,437.4 1994.6,435.3 1995.2,434.0 1995.8,449.9 1996.4,447.5 1997.0,435.3 1997.6,462.9 1998.2,445.2 1998.8,438.2 1999.4,446.8 2000.0,444.4 2000.6,440.5 2001.2,433.8 2001.8,446.3 2002.4,449.6 2003.0,431.1 2003.6,450.6 2004.2,451.3 2004.8,445.1 2005.4,449.0 2006.0,447.0 2006.6,444.0 2007.2,447.3 2007.8,458.0 2008.4,441.4 2009.0,451.9 2009.6,452.0 2010.2,447.0 2010.8,448.9 2011.4,443.5 2012.0,447.1 2012.6,452.7 2013.2,454.9 2013.8,447.9 2014.4,471.8 2015.0,450.5 2015.6,455.0 2016.2,453.2 2016.8,452.5 2017.4,462.9 2018.0,452.6 2018.6,463.7 2019.2,462.9 2019.8,450.2 2020.4,462.8 2021.0,453.1 2021.6,473.5 2022.2,455.3 2022.8,447.9 2023.4,446.9 2024.0,450.8 2024.6,455.3 2025.2,453.2 2025.8,452.1 2026.4,455.6 2027.0,458.7 2027.6,468.7 2028.2,450.5 2028.8,457.6 2029.4,455.5 2030.0,452.5 2030.6,454.3 2031.2,456.7 2031.8,466.5 2032.4,461.4 2033.0,459.7 2033.6,466.7 2034.2,465.1 2034.8,462.4 2035.4,466.2 2036.0,459.5 2036.6,468.2 2037.2,467.6 2037.8,462.8 2038.4,458.4 2039.0,474.6 2039.6,466.6 2040.2,484.1 2040.8,462.9 2041.4,471.9 2042.0,464.8 2042.6,469.1 2043.2,472.7 2043.8,463.6 2044.4,468.0 2045.0,469.8 2045.6,469.8 2046.2,472.9 2046.8,475.7 2047.4,474.9 2048.0,471.9 2048.6,468.7 2049.2,464.6 2049.8,467.1 2050.4,468.6 2051.0,475.8 2051.6,470.2 2052.2,465.5 2052.8,476.4 2053.4,468.6 2054.0,469.1 2054.6,472.5 2055.2,476.7 2055.8,460.7 2056.4,468.3 2057.0,475.9 2057.6,473.2 2058.2,470.6 2058.8,472.8 2059.4,483.9 2060.0,473.8 2060.6,480.7 2061.2,481.4 2061.8,474.7 2062.4,480.0 2063.0,475.2 2063.6,474.6 2064.2,472.0 2064.8,483.4 2065.4,476.6 2066.0,475.9 2066.6,473.0 2067.2,489.6 2067.8,483.9 2068.4,479.3 2069.0,476.4 2069.6,472.0 2070.2,482.4 2070.8,482.6 2071.4,473.4 2072.0,487.9 2072.6,486.0 2073.2,476.6 2073.8,479.0 2074.4,480.0 2075.0,483.5 2075.6,482.0 2076.2,474.0 2076.8,491.4 2077.4,485.2 2078.0,490.7 2078.6,490.9 2079.2,483.0 2079.8,486.3 2080.4,488.7 2081.0,489.1 2081.6,484.2 2082.2,482.0 2082.8,485.8 2083.4,481.5 2084.0,483.0 2084.6,475.2 2085.2,487.0 2085.8,481.2 2086.4,484.1 2087.0,487.1 2087.6,489.3 2088.2,506.4 2088.8,489.3 2089.4,480.8 2090.0,489.4 2090.6,485.8 2091.2,491.5 2091.8,485.9 2092.4,486.1 2093.0,487.5 2093.6,487.1 2094.2,481.0 2094.8,487.6 2095.4,491.4 2096.0,498.3 2096.6,490.6 2097.2,490.5 2097.8,495.9 2098.4,496.0 2099.0,502.0 2099.6,496.9 2100.2,494.0 2100.8,501.6 2101.4,509.4 2102.0,492.6 2102.6,496.2 2103.2,486.8 2103.8,494.1 2104.4,491.7 2105.0,495.5 2105.6,494.4 2106.2,496.4 2106.8,497.0 2107.4,500.5 2108.0,499.4 2108.6,495.5 2109.2,491.9 2109.8,505.5 2110.4,506.7 2111.0,497.1 2111.6,502.7 2112.2,492.0 2112.8,492.0 2113.4,499.0 2114.0,508.4 2114.6,495.4 2115.2,496.7 2115.8,509.7 2116.4,491.6 2117.0,505.1 2117.6,504.4 2118.2,501.0 2118.8,503.2 2119.4,516.1 2120.0,496.8 2120.6,501.2 2121.2,501.7 2121.8,499.6 2122.4,496.3 2123.0,511.7 2123.6,504.8 2124.2,494.7 2124.8,500.3 2125.4,506.2 2126.0,506.4 2126.6,497.0 2127.2,504.1 2127.8,506.1 2128.4,507.0 2129.0,507.1 2129.6,495.9 2130.2,515.0 2130.8,506.7 2131.4,515.1 2132.0,520.7 2132.6,505.3 2133.2,499.9 2133.8,510.9 2134.4,505.7 2135.0,504.5 2135.6,501.7 2136.2,515.9 2136.8,505.1 2137.4,500.4 2138.0,505.5 2138.6,502.1 2139.2,509.0 2139.8,506.3 2140.4,503.3 2141.0,511.9 2141.6,505.8 2142.2,513.0 2142.8,516.0 2143.4,506.5 2144.0,506.8 2144.6,511.3 2145.2,515.0 2145.8,510.8 2146.4,511.7 2147.0,511.1 2147.6,513.1 2148.2,514.9 2148.8,508.5 2149.4,509.9 2150.0,512.9 2150.6,509.4 2151.2,513.7 2151.8,516.0 2152.4,513.4 2153.0,510.8 2153.6,510.2 2154.2,523.1 2154.8,518.9 2155.4,509.2 2156.0,510.9 2156.6,524.6 2157.2,523.1 2157.8,516.4 2158.4,521.8 2159.0,508.9 2159.6,516.5 2160.2,520.4 2160.8,507.7 2161.4,513.3 2162.0,521.2 2162.6,523.2 2163.2,514.9 2163.8,519.4 2164.4,526.1 2165.0,516.5 2165.6,512.0 2166.2,518.5 2166.8,517.1 2167.4,525.6 2168.0,520.2 2168.6,515.6 2169.2,531.5 2169.8,517.5 2170.4,522.5 2171.0,523.6 2171.6,524.3 2172.2,521.5 2172.8,523.7 2173.4,520.7 2174.0,514.3 2174.6,520.3 2175.2,520.6 2175.8,520.9 2176.4,522.6 2177.0,519.1 2177.6,528.7 2178.2,530.1 2178.8,512.0 2179.4,522.9 2180.0,519.5 2180.6,510.5 2181.2,525.3 2181.8,520.5 2182.4,521.9 2183.0,520.7 2183.6,529.3 2184.2,530.2 2184.8,525.7 2185.4,527.9 2186.0,524.2 2186.6,525.6 2187.2,521.5 2187.8,525.4 2188.4,522.0 2189.0,527.4 2189.6,529.8 2190.2,527.5 2190.8,531.9 2191.4,539.2 2192.0,516.5 2192.6,526.8 2193.2,524.2 2193.8,523.2 2194.4,520.8 2195.0,527.9 2195.6,526.4 2196.2,524.8 2196.8,526.8 2197.4,525.4 2198.0,517.3 2198.6,533.7 2199.2,527.3 2199.8,524.4 2200.4,530.6 2201.0,526.2 2201.6,519.2 2202.2,533.8 2202.8,521.9 2203.4,529.0 2204.0,530.8 2204.6,536.7 2205.2,536.1 2205.8,531.5 2206.4,527.3 2207.0,529.1 2207.6,536.4 2208.2,539.8 2208.8,534.2 2209.4,528.8 2210.0,536.8 2210.6,530.4 2211.2,530.4 2211.8,531.2 2212.4,535.4 2213.0,534.1 2213.6,537.6 2214.2,539.2 2214.8,535.7 2215.4,522.6 2216.0,525.8 2216.6,534.5 2217.2,533.7 2217.8,544.1 2218.4,534.1 2219.0,533.7 2219.6,539.0 2220.2,539.7 2220.8,533.8 2221.4,537.3 2222.0,530.0 2222.6,531.0 2223.2,541.2 2223.8,529.2 2224.4,540.1 2225.0,539.1 2225.6,539.7 2226.2,540.5 2226.8,539.1 2227.4,526.8 2228.0,528.5 2228.6,534.2 2229.2,541.3 2229.8,532.1 2230.4,534.2 2231.0,535.9 2231.6,543.7 2232.2,531.3 2232.8,531.8 2233.4,541.0 2234.0,528.6 2234.6,540.0 2235.2,536.6 2235.8,531.6 2236.4,537.1 2237.0,530.9 2237.6,540.0 2238.2,541.1 2238.8,546.4 2239.4,539.7 2240.0,540.4 2240.6,537.5 2241.2,540.2 2241.8,545.2 2242.4,531.9 2243.0,543.8 2243.6,538.6 2244.2,541.5 2244.8,542.8 2245.4,545.4 2246.0,542.8 2246.6,540.2 2247.2,543.6 2247.8,542.4 2248.4,541.7 2249.0,543.7 2249.6,546.9 2250.2,543.8 2250.8,544.1 2251.4,537.9 2252.0,543.2 2252.6,535.8 2253.2,550.0 2253.8,540.3 2254.4,550.4 2255.0,558.1 2255.6,543.3 2256.2,551.2 2256.8,547.3 2257.4,543.2 2258.0,542.2 2258.6,548.6 2259.2,552.4 2259.8,548.1 2260.4,540.1 2261.0,542.3 2261.6,546.1 2262.2,553.2 2262.8,548.7 2263.4,549.1 2264.0,553.1 2264.6,547.1 2265.2,547.8 2265.8,547.6 2266.4,540.8 2267.0,550.7 2267.6,550.7 2268.2,553.3 2268.8,544.0 2269.4,545.8 2270.0,553.5 2270.6,551.0 2271.2,555.7 2271.8,546.1 2272.4,550.9 2273.0,547.2 2273.6,551.6 2274.2,548.2 2274.8,552.7 2275.4,555.2 2276.0,553.5 2276.6,542.9 2277.2,554.9 2277.8,552.8 2278.4,546.5 2279.0,547.3 2279.6,551.2 2280.2,553.7 2280.8,549.4 2281.4,544.4 2282.0,552.7 2282.6,552.3 2283.2,562.1 2283.8,546.2 2284.4,562.6 2285.0,559.3 2285.6,553.2 2286.2,559.1 2286.8,552.5 2287.4,556.3 2288.0,549.1 2288.6,552.6 2289.2,548.0 2289.8,545.7 2290.4,551.3 2291.0,549.7 2291.6,555.0 2292.2,558.1 2292.8,552.0 2293.4,553.0 2294.0,553.7 2294.6,545.8 2295.2,554.1 2295.8,553.1 2296.4,552.9 2297.0,548.5 2297.6,544.8 2298.2,552.3 2298.8,554.7 2299.4,559.2 2300.0,558.3 2300.6,559.8 2301.2,555.3 2301.8,558.7 2302.4,553.0 2303.0,556.6 2303.6,558.0 2304.2,565.5 2304.8,555.2 2305.4,548.8 2306.0,560.2 2306.6,551.0 2307.2,554.2 2307.8,553.3 2308.4,550.8 2309.0,560.3 2309.6,557.3 2310.2,552.3 2310.8,555.2 2311.4,553.2 2312.0,557.7 2312.6,553.6 2313.2,552.0 2313.8,552.6 2314.4,553.6 2315.0,556.7 2315.6,551.7 2316.2,555.3 2316.8,557.6 2317.4,565.6 2318.0,559.5 2318.6,543.4 2319.2,553.9 2319.8,554.5 2320.4,557.6 2321.0,562.9 2321.6,559.5 2322.2,546.9 2322.8,557.9 2323.4,557.2 2324.0,558.6 2324.6,562.6 2325.2,552.5 2325.8,561.8 2326.4,550.4 2327.0,557.6 2327.6,559.1 2328.2,567.1 2328.8,554.8 2329.4,550.8 2330.0,560.9 2330.6,555.4 2331.2,564.8 2331.8,555.6 2332.4,555.1 2333.0,564.0 2333.6,559.4 2334.2,563.4 2334.8,553.6 2335.4,571.9 2336.0,557.5 2336.6,563.5 2337.2,556.2 2337.8,554.2 2338.4,559.8 2339.0,561.8 2339.6,567.8 2340.2,563.0 2340.8,564.7 2341.4,564.7 2342.0,574.9 2342.6,559.2 2343.2,567.9 2343.8,562.4 2344.4,564.3 2345.0,561.3 2345.6,568.5 2346.2,558.9 2346.8,558.9 2347.4,563.6 2348.0,560.0 2348.6,567.7 2349.2,568.8 2349.8,562.3 2350.4,568.7 2351.0,563.1 2351.6,565.7 2352.2,566.1 2352.8,573.7 2353.4,566.4 2354.0,560.1 2354.6,563.1 2355.2,571.6 2355.8,560.4 2356.4,565.3 2357.0,565.8 2357.6,557.8 2358.2,565.7 2358.8,571.7 2359.4,568.8 2360.0,564.4 2360.6,570.8 2361.2,570.3 2361.8,576.3 2362.4,565.6 2363.0,567.1 2363.6,568.9 2364.2,568.3 2364.8,569.3 2365.4,568.7 2366.0,566.5 2366.6,563.0 2367.2,567.2 2367.8,564.1 2368.4,565.6 2369.0,567.6 2369.6,571.8 2370.2,573.3 2370.8,566.0 2371.4,571.4 2372.0,573.4 2372.6,570.2 2373.2,564.1 2373.8,562.2 2374.4,573.8 2375.0,574.3 2375.6,571.9 2376.2,566.9 2376.8,576.7 2377.4,575.9 2378.0,571.1 2378.6,570.5 2379.2,563.9 2379.8,574.5 2380.4,565.5 2381.0,574.4 2381.6,574.7 2382.2,572.3 2382.8,578.1 2383.4,570.9 2384.0,574.5 2384.6,575.4 2385.2,573.4 2385.8,570.9 2386.4,577.3 2387.0,574.3 2387.6,572.0 2388.2,572.2 2388.8,573.4 2389.4,581.8 2390.0,573.5 2390.6,572.3 2391.2,569.2 2391.8,568.7 2392.4,566.2 2393.0,574.4 2393.6,573.7 2394.2,569.8 2394.8,568.1 2395.4,572.6 2396.0,572.0 2396.6,569.0 2397.2,575.3 2397.8,574.8 2398.4,574.1 2399.0,577.3 2399.6,572.0 2400.2,579.7 2400.8,570.9 2401.4,576.7 2402.0,577.3 2402.6,574.0 2403.2,576.4 2403.8,570.3 2404.4,569.6 2405.0,574.6 2405.6,572.7 2406.2,577.8 2406.8,575.8 2407.4,578.1 2408.0,577.1 2408.6,576.8 2409.2,576.5 2409.8,574.9 2410.4,574.6 2411.0,584.1 2411.6,570.0 2412.2,576.0 2412.8,580.6 2413.4,578.5 2414.0,582.3 2414.6,579.2 2415.2,572.6 2415.8,576.2 2416.4,572.3 2417.0,581.3 2417.6,583.1 2418.2,576.3 2418.8,580.0 2419.4,576.6 2420.0,572.9 2420.6,576.7 2421.2,572.6 2421.8,576.5 2422.4,579.5 2423.0,581.5 2423.6,583.8 2424.2,577.9 2424.8,580.1 2425.4,580.9 2426.0,581.5 2426.6,569.2 2427.2,576.9 2427.8,582.8 2428.4,575.9 2429.0,581.1 2429.6,583.3 2430.2,573.5 2430.8,579.8 2431.4,581.5 2432.0,580.8 2432.6,575.4 2433.2,582.3 2433.8,579.2 2434.4,584.3 2435.0,583.0 2435.6,579.6 2436.2,582.4 2436.8,579.4 2437.4,579.5 2438.0,576.5 2438.6,581.5 2439.2,585.3 2439.8,583.0 2440.4,582.4 2441.0,580.6 2441.6,581.1 2442.2,585.8 2442.8,577.9 2443.4,590.8 2444.0,583.3 2444.6,591.5 2445.2,588.0 2445.8,582.5 2446.4,586.8 2447.0,585.2 2447.6,586.1 2448.2,587.4 2448.8,582.8 2449.4,582.7 2450.0,583.6 2450.6,580.4 2451.2,584.4 2451.8,586.3 2452.4,586.6 2453.0,586.5 2453.6,584.6" fill="none" stroke="#f00" stroke-width="2" stroke-linejoin="round" marker-start="url(#mr)" marker-mid="url(#mr)" marker-end="url(#mr)"/>
<polyline points="1741.6,412.6 1743.7,368.0 1747.0,285.0 1748.0,211.0 1750.0,170.0 1753.0,140.0 1755.0,131.3 1755.6,132.2 1756.2,133.1 1756.8,133.6 1757.4,138.8 1758.0,142.2 1758.6,145.5 1759.2,152.7 1759.8,158.5 1760.4,171.3 1761.0,194.1 1761.6,203.2 1762.2,202.7 1762.8,206.6 1763.4,207.2 1764.0,212.3 1764.6,211.4 1765.2,211.0 1765.8,209.9 1766.4,213.3 1767.0,216.1 1767.6,216.7 1768.2,227.5 1768.8,229.6 1769.4,212.8 1770.0,220.9 1770.6,234.6 1771.2,234.8 1771.8,243.4 1772.4,245.8 1773.0,258.3 1773.6,241.4 1774.2,246.9 1774.8,261.7 1775.4,254.9 1776.0,255.9 1776.6,250.2 1777.2,244.7 1777.8,255.7 1778.4,256.2 1779.0,249.6 1779.6,253.5 1780.2,257.9 1780.8,254.1 1781.4,260.0 1782.0,262.2 1782.6,263.2 1783.2,261.5 1783.8,268.9 1784.4,271.9 1785.0,270.2 1785.6,265.3 1786.2,275.2 1786.8,269.9 1787.4,278.9 1788.0,269.7 1788.6,282.0 1789.2,278.3 1789.8,273.1 1790.4,279.5 1791.0,283.0 1791.6,285.7 1792.2,280.4 1792.8,281.3 1793.4,289.8 1794.0,287.7 1794.6,292.9 1795.2,297.0 1795.8,285.5 1796.4,296.8 1797.0,303.0 1797.6,295.9 1798.2,294.2 1798.8,303.4 1799.4,301.6 1800.0,305.9 1800.6,300.2 1801.2,295.0 1801.8,302.6 1802.4,302.1 1803.0,309.3 1803.6,307.1 1804.2,298.4 1804.8,301.5 1805.4,313.2 1806.0,312.9 1806.6,306.8 1807.2,310.9 1807.8,314.0 1808.4,314.9 1809.0,317.7 1809.6,315.2 1810.2,313.7 1810.8,314.0 1811.4,321.5 1812.0,305.2 1812.6,316.9 1813.2,318.6 1813.8,311.9 1814.4,321.8 1815.0,317.6 1815.6,326.3 1816.2,322.2 1816.8,327.2 1817.4,331.1 1818.0,327.9 1818.6,322.9 1819.2,321.1 1819.8,339.3 1820.4,331.6 1821.0,330.4 1821.6,336.4 1822.2,336.5 1822.8,343.5 1823.4,341.1 1824.0,342.5 1824.6,340.3 1825.2,347.3 1825.8,341.0 1826.4,350.3 1827.0,355.5 1827.6,341.5 1828.2,337.7 1828.8,353.7 1829.4,363.9 1830.0,347.4 1830.6,347.0 1831.2,356.7 1831.8,350.4 1832.4,352.7 1833.0,354.2 1833.6,359.1 1834.2,355.2 1834.8,359.1 1835.4,357.6 1836.0,354.9 1836.6,358.0 1837.2,355.4 1837.8,360.5 1838.4,355.5 1839.0,356.1 1839.6,368.8 1840.2,362.0 1840.8,362.4 1841.4,365.6 1842.0,361.6 1842.6,362.1 1843.2,366.6 1843.8,366.5 1844.4,360.2 1845.0,370.3 1845.6,364.2 1846.2,362.8 1846.8,364.4 1847.4,367.9 1848.0,378.6 1848.6,366.5 1849.2,374.1 1849.8,364.6 1850.4,376.0 1851.0,381.5 1851.6,377.4 1852.2,376.8 1852.8,382.0 1853.4,387.8 1854.0,385.9 1854.6,392.7 1855.2,385.2 1855.8,382.0 1856.4,384.5 1857.0,385.2 1857.6,386.4 1858.2,386.0 1858.8,387.3 1859.4,379.1 1860.0,390.8 1860.6,384.7 1861.2,382.2 1861.8,390.9 1862.4,394.3 1863.0,391.0 1863.6,390.0 1864.2,385.5 1864.8,403.6 1865.4,398.8 1866.0,387.9 1866.6,391.1 1867.2,396.8 1867.8,391.1 1868.4,400.5 1869.0,399.2 1869.6,407.9 1870.2,407.5 1870.8,391.8 1871.4,404.7 1872.0,397.8 1872.6,410.4 1873.2,406.6 1873.8,408.7 1874.4,402.0 1875.0,415.2 1875.6,416.4 1876.2,403.2 1876.8,410.0 1877.4,405.9 1878.0,409.3 1878.6,404.4 1879.2,418.8 1879.8,407.0 1880.4,410.6 1881.0,414.7 1881.6,410.4 1882.2,412.9 1882.8,412.2 1883.4,414.7 1884.0,410.9 1884.6,414.7 1885.2,416.3 1885.8,416.3 1886.4,418.6 1887.0,417.5 1887.6,422.5 1888.2,418.3 1888.8,419.5 1889.4,417.6 1890.0,418.5 1890.6,415.7 1891.2,423.7 1891.8,416.9 1892.4,418.9 1893.0,424.0 1893.6,424.5 1894.2,421.4 1894.8,414.9 1895.4,425.6 1896.0,425.3 1896.6,418.6 1897.2,428.4 1897.8,422.6 1898.4,421.2 1899.0,426.9 1899.6,426.3 1900.2,428.4 1900.8,421.3 1901.4,436.2 1902.0,426.5 1902.6,423.1 1903.2,432.7 1903.8,429.1 1904.4,432.4 1905.0,430.0 1905.6,431.6 1906.2,433.3 1906.8,429.5 1907.4,435.8 1908.0,431.3 1908.6,429.9 1909.2,434.4 1909.8,436.0 1910.4,433.5 1911.0,431.1 1911.6,437.6 1912.2,428.0 1912.8,431.3 1913.4,436.1 1914.0,430.6 1914.6,436.7 1915.2,436.6 1915.8,441.1 1916.4,434.0 1917.0,435.7 1917.6,440.1 1918.2,429.0 1918.8,452.4 1919.4,437.2 1920.0,437.6 1920.6,444.6 1921.2,441.5 1921.8,434.9 1922.4,445.3 1923.0,446.7 1923.6,441.9 1924.2,443.2 1924.8,446.8 1925.4,441.7 1926.0,447.8 1926.6,447.4 1927.2,444.5 1927.8,442.2 1928.4,447.6 1929.0,445.6 1929.6,453.8 1930.2,451.0 1930.8,454.2 1931.4,452.2 1932.0,453.3 1932.6,449.6 1933.2,455.8 1933.8,460.7 1934.4,452.8 1935.0,452.2 1935.6,454.3 1936.2,453.5 1936.8,453.0 1937.4,456.7 1938.0,455.5 1938.6,462.7 1939.2,457.4 1939.8,459.1 1940.4,461.9 1941.0,457.4 1941.6,464.6 1942.2,456.8 1942.8,456.5 1943.4,458.5 1944.0,459.9 1944.6,455.2 1945.2,460.9 1945.8,454.8 1946.4,467.1 1947.0,461.7 1947.6,459.8 1948.2,459.1 1948.8,460.3 1949.4,462.4 1950.0,459.6 1950.6,457.5 1951.2,463.5 1951.8,462.5 1952.4,468.5 1953.0,469.6 1953.6,465.5 1954.2,467.6 1954.8,460.9 1955.4,468.9 1956.0,466.6 1956.6,468.9 1957.2,473.5 1957.8,458.9 1958.4,468.9 1959.0,464.0 1959.6,470.8 1960.2,463.8 1960.8,467.3 1961.4,470.3 1962.0,472.2 1962.6,470.4 1963.2,467.4 1963.8,468.7 1964.4,474.5 1965.0,471.4 1965.6,465.3 1966.2,475.2 1966.8,473.9 1967.4,476.0 1968.0,471.7 1968.6,476.4 1969.2,469.5 1969.8,476.0 1970.4,470.8 1971.0,477.0 1971.6,478.5 1972.2,470.0 1972.8,475.1 1973.4,475.7 1974.0,480.4 1974.6,478.9 1975.2,471.9 1975.8,478.5 1976.4,479.8 1977.0,485.3 1977.6,471.4 1978.2,475.9 1978.8,483.2 1979.4,473.5 1980.0,474.3 1980.6,481.0 1981.2,483.2 1981.8,477.2 1982.4,482.0 1983.0,480.8 1983.6,486.3 1984.2,480.9 1984.8,487.8 1985.4,478.2 1986.0,481.2 1986.6,481.8 1987.2,486.7 1987.8,485.0 1988.4,480.4 1989.0,486.0 1989.6,486.7 1990.2,483.8 1990.8,483.6 1991.4,484.2 1992.0,479.0 1992.6,486.2 1993.2,486.8 1993.8,483.1 1994.4,489.3 1995.0,481.9 1995.6,485.3 1996.2,485.9 1996.8,495.2 1997.4,482.6 1998.0,490.8 1998.6,492.5 1999.2,490.8 1999.8,494.1 2000.4,486.5 2001.0,482.3 2001.6,493.6 2002.2,487.0 2002.8,490.4 2003.4,487.8 2004.0,496.1 2004.6,495.8 2005.2,490.5 2005.8,496.7 2006.4,494.3 2007.0,493.7 2007.6,494.8 2008.2,494.2 2008.8,497.5 2009.4,496.8 2010.0,494.8 2010.6,500.0 2011.2,494.6 2011.8,498.2 2012.4,499.0 2013.0,503.1 2013.6,496.5 2014.2,504.8 2014.8,499.7 2015.4,498.8 2016.0,497.5 2016.6,502.3 2017.2,500.8 2017.8,497.1 2018.4,497.5 2019.0,499.9 2019.6,499.8 2020.2,506.4 2020.8,507.7 2021.4,506.4 2022.0,505.0 2022.6,502.7 2023.2,504.8 2023.8,508.0 2024.4,512.7 2025.0,508.9 2025.6,505.2 2026.2,506.7 2026.8,505.3 2027.4,504.7 2028.0,507.1 2028.6,508.8 2029.2,514.8 2029.8,509.1 2030.4,514.0 2031.0,515.7 2031.6,510.4 2032.2,515.9 2032.8,513.3 2033.4,509.9 2034.0,512.6 2034.6,512.1 2035.2,511.6 2035.8,512.1 2036.4,513.6 2037.0,515.0 2037.6,510.9 2038.2,514.2 2038.8,509.5 2039.4,515.8 2040.0,517.4 2040.6,516.2 2041.2,517.0 2041.8,518.4 2042.4,514.6 2043.0,516.4 2043.6,519.2 2044.2,521.2 2044.8,519.6 2045.4,527.0 2046.0,518.7 2046.6,522.6 2047.2,523.9 2047.8,519.7 2048.4,517.8 2049.0,517.0 2049.6,521.7 2050.2,525.1 2050.8,522.7 2051.4,522.8 2052.0,521.3 2052.6,524.7 2053.2,516.3 2053.8,524.3 2054.4,524.0 2055.0,516.3 2055.6,531.5 2056.2,520.4 2056.8,521.7 2057.4,521.6 2058.0,529.3 2058.6,523.2 2059.2,528.4 2059.8,528.5 2060.4,527.7 2061.0,523.0 2061.6,525.4 2062.2,532.9 2062.8,523.8 2063.4,525.5 2064.0,527.8 2064.6,531.1 2065.2,529.5 2065.8,531.3 2066.4,525.8 2067.0,532.3 2067.6,531.4 2068.2,524.7 2068.8,534.8 2069.4,537.3 2070.0,527.9 2070.6,530.7 2071.2,535.0 2071.8,526.2 2072.4,524.8 2073.0,523.9 2073.6,529.6 2074.2,529.7 2074.8,533.6 2075.4,532.7 2076.0,528.1 2076.6,533.9 2077.2,538.2 2077.8,536.2 2078.4,535.7 2079.0,532.9 2079.6,536.0 2080.2,530.1 2080.8,535.6 2081.4,533.2 2082.0,537.1 2082.6,535.2 2083.2,530.6 2083.8,534.5 2084.4,538.1 2085.0,531.0 2085.6,532.9 2086.2,532.5 2086.8,530.4 2087.4,538.2 2088.0,539.4 2088.6,538.1 2089.2,536.5 2089.8,535.8 2090.4,536.9 2091.0,534.1 2091.6,539.3 2092.2,540.0 2092.8,539.8 2093.4,535.5 2094.0,537.6 2094.6,537.1 2095.2,543.2 2095.8,538.5 2096.4,532.5 2097.0,539.6 2097.6,544.3 2098.2,540.9 2098.8,541.7 2099.4,539.3 2100.0,533.4 2100.6,534.1 2101.2,536.1 2101.8,539.7 2102.4,541.2 2103.0,542.5 2103.6,539.6 2104.2,543.8 2104.8,540.3 2105.4,539.2 2106.0,544.1 2106.6,539.0 2107.2,533.8 2107.8,539.0 2108.4,542.7 2109.0,533.5 2109.6,541.8 2110.2,542.1 2110.8,539.1 2111.4,539.2 2112.0,542.4 2112.6,542.4 2113.2,548.0 2113.8,545.6 2114.4,540.1 2115.0,542.5 2115.6,547.4 2116.2,551.1 2116.8,547.0 2117.4,547.0 2118.0,551.9 2118.6,546.6 2119.2,546.1 2119.8,539.9 2120.4,546.1 2121.0,554.2 2121.6,544.0 2122.2,548.5 2122.8,544.7 2123.4,549.5 2124.0,552.0 2124.6,549.0 2125.2,552.1 2125.8,552.4 2126.4,551.9 2127.0,555.8 2127.6,553.4 2128.2,550.6 2128.8,549.8 2129.4,549.7 2130.0,553.7 2130.6,551.7 2131.2,560.7 2131.8,558.4 2132.4,552.8 2133.0,552.7 2133.6,558.7 2134.2,548.8 2134.8,553.1 2135.4,557.3 2136.0,552.2 2136.6,553.6 2137.2,554.2 2137.8,557.2 2138.4,555.9 2139.0,556.8 2139.6,557.5 2140.2,556.1 2140.8,559.2 2141.4,554.2 2142.0,552.4 2142.6,551.6 2143.2,552.2 2143.8,555.3 2144.4,559.8 2145.0,557.6 2145.6,555.5 2146.2,554.3 2146.8,556.0 2147.4,556.4 2148.0,556.1 2148.6,553.8 2149.2,556.6 2149.8,560.8 2150.4,552.1 2151.0,557.5 2151.6,552.4 2152.2,558.9 2152.8,556.4 2153.4,552.9 2154.0,559.0 2154.6,563.8 2155.2,559.2 2155.8,562.2 2156.4,559.0 2157.0,553.3 2157.6,560.7 2158.2,558.3 2158.8,555.6 2159.4,561.9 2160.0,560.6 2160.6,558.5 2161.2,562.5 2161.8,557.8 2162.4,562.1 2163.0,557.9 2163.6,562.1 2164.2,557.7 2164.8,564.9 2165.4,561.7 2166.0,565.1 2166.6,559.0 2167.2,560.1 2167.8,563.9 2168.4,554.3 2169.0,559.0 2169.6,564.8 2170.2,563.4 2170.8,565.0 2171.4,561.7 2172.0,564.2 2172.6,560.8 2173.2,559.2 2173.8,558.5 2174.4,561.8 2175.0,561.9 2175.6,561.9 2176.2,554.2 2176.8,558.5 2177.4,562.6 2178.0,565.0 2178.6,562.8 2179.2,562.2 2179.8,558.5 2180.4,570.2 2181.0,562.0 2181.6,569.6 2182.2,569.4 2182.8,566.2 2183.4,564.1 2184.0,566.1 2184.6,562.8 2185.2,566.7 2185.8,566.2 2186.4,567.7 2187.0,568.9 2187.6,571.2 2188.2,565.7 2188.8,569.6 2189.4,564.9 2190.0,564.7 2190.6,565.6 2191.2,564.8 2191.8,570.1 2192.4,570.1 2193.0,571.1 2193.6,567.8 2194.2,568.7 2194.8,566.6 2195.4,565.3 2196.0,569.6 2196.6,569.2 2197.2,565.8 2197.8,570.3 2198.4,564.4 2199.0,568.6 2199.6,567.5 2200.2,567.9 2200.8,566.6 2201.4,572.0 2202.0,571.1 2202.6,572.8 2203.2,570.2 2203.8,566.6 2204.4,569.1 2205.0,567.1 2205.6,571.5 2206.2,573.6 2206.8,571.4 2207.4,569.1 2208.0,569.8 2208.6,571.4 2209.2,567.2 2209.8,571.5 2210.4,571.7 2211.0,569.9 2211.6,570.3 2212.2,571.9 2212.8,569.5 2213.4,569.6 2214.0,573.8 2214.6,572.4 2215.2,576.3 2215.8,569.5 2216.4,567.6 2217.0,574.6 2217.6,574.7 2218.2,570.5 2218.8,568.7 2219.4,572.4 2220.0,568.1 2220.6,571.8 2221.2,567.2 2221.8,572.2 2222.4,567.5 2223.0,572.3 2223.6,576.9 2224.2,572.4 2224.8,575.1 2225.4,571.6 2226.0,571.0 2226.6,569.5 2227.2,576.1 2227.8,573.3 2228.4,577.7 2229.0,570.6 2229.6,573.1 2230.2,573.9 2230.8,577.4 2231.4,578.5 2232.0,572.3 2232.6,571.1 2233.2,569.6 2233.8,577.5 2234.4,574.0 2235.0,572.6 2235.6,574.2 2236.2,567.9 2236.8,570.1 2237.4,576.9 2238.0,575.6 2238.6,575.0 2239.2,572.2 2239.8,576.3 2240.4,579.4 2241.0,569.3 2241.6,575.1 2242.2,574.0 2242.8,576.1 2243.4,575.3 2244.0,575.0 2244.6,573.3 2245.2,575.5 2245.8,574.1 2246.4,575.4 2247.0,575.7 2247.6,577.6 2248.2,574.6 2248.8,575.4 2249.4,579.0 2250.0,575.8 2250.6,575.9 2251.2,578.8 2251.8,577.4 2252.4,577.1 2253.0,577.6 2253.6,574.1 2254.2,578.5 2254.8,580.8 2255.4,579.2 2256.0,574.1 2256.6,578.8 2257.2,576.1 2257.8,577.9 2258.4,579.0 2259.0,576.0 2259.6,582.4 2260.2,579.2 2260.8,581.5 2261.4,581.4 2262.0,583.3 2262.6,583.2 2263.2,576.9 2263.8,580.8 2264.4,575.8 2265.0,580.1 2265.6,583.1 2266.2,583.8 2266.8,584.9 2267.4,581.1 2268.0,583.6 2268.6,582.7 2269.2,585.7 2269.8,586.7 2270.4,582.2 2271.0,592.3 2271.6,583.4 2272.2,582.7 2272.8,585.2 2273.4,585.7 2274.0,585.3 2274.6,582.7 2275.2,587.8 2275.8,584.6 2276.4,588.3 2277.0,588.1 2277.6,581.9 2278.2,582.7 2278.8,582.8 2279.4,585.9 2280.0,585.6 2280.6,586.2 2281.2,583.8 2281.8,586.9 2282.4,589.3 2283.0,583.0 2283.6,585.8 2284.2,586.9 2284.8,586.2 2285.4,586.1 2286.0,590.9 2286.6,589.8 2287.2,588.9 2287.8,585.3 2288.4,592.4 2289.0,588.2 2289.6,586.1 2290.2,586.8 2290.8,586.5 2291.4,592.7 2292.0,588.3 2292.6,588.1 2293.2,583.1 2293.8,589.9 2294.4,585.9 2295.0,585.8 2295.6,589.9 2296.2,586.6 2296.8,590.6 2297.4,591.4 2298.0,584.8 2298.6,588.7 2299.2,582.6 2299.8,589.1 2300.4,591.4 2301.0,586.3 2301.6,593.6 2302.2,588.9 2302.8,587.0 2303.4,589.5 2304.0,591.6 2304.6,586.8 2305.2,590.0 2305.8,586.9 2306.4,592.9 2307.0,590.8 2307.6,589.3 2308.2,592.7 2308.8,587.5 2309.4,589.6 2310.0,594.8 2310.6,590.4 2311.2,593.8 2311.8,591.2 2312.4,589.3 2313.0,590.4 2313.6,591.2 2314.2,590.1 2314.8,589.2 2315.4,589.4 2316.0,587.9 2316.6,591.5 2317.2,592.2 2317.8,593.1 2318.4,587.4 2319.0,593.4 2319.6,591.6 2320.2,588.5 2320.8,592.0 2321.4,593.6 2322.0,593.1 2322.6,593.6 2323.2,594.1 2323.8,594.1 2324.4,592.1 2325.0,587.6 2325.6,590.6 2326.2,593.2 2326.8,591.4 2327.4,594.1 2328.0,594.4 2328.6,592.9 2329.2,597.0 2329.8,590.8 2330.4,595.1 2331.0,592.1 2331.6,591.5 2332.2,594.7 2332.8,592.1 2333.4,595.5 2334.0,591.1 2334.6,593.9 2335.2,592.1 2335.8,593.5 2336.4,593.4 2337.0,591.8 2337.6,595.9 2338.2,591.8 2338.8,592.5 2339.4,596.8 2340.0,597.1 2340.6,596.5 2341.2,595.9 2341.8,600.3 2342.4,592.8 2343.0,594.0 2343.6,593.6 2344.2,597.8 2344.8,596.6 2345.4,598.5 2346.0,598.4 2346.6,595.9 2347.2,594.7 2347.8,594.5 2348.4,601.5 2349.0,599.0 2349.6,598.3 2350.2,596.4 2350.8,596.8 2351.4,596.6 2352.0,596.8 2352.6,592.4 2353.2,597.6 2353.8,597.0 2354.4,598.5 2355.0,598.4 2355.6,599.9 2356.2,598.2 2356.8,600.0 2357.4,593.0 2358.0,596.2 2358.6,602.3 2359.2,596.1 2359.8,598.2 2360.4,600.4 2361.0,597.1 2361.6,600.6 2362.2,596.2 2362.8,595.3 2363.4,596.6 2364.0,593.2 2364.6,599.5 2365.2,599.0 2365.8,600.5 2366.4,597.7 2367.0,605.3 2367.6,599.8 2368.2,600.0 2368.8,601.2 2369.4,599.8 2370.0,599.1 2370.6,600.7 2371.2,602.5 2371.8,602.0 2372.4,602.7 2373.0,599.6 2373.6,599.3 2374.2,608.5 2374.8,600.6 2375.4,602.1 2376.0,602.8 2376.6,604.2 2377.2,598.6 2377.8,600.5 2378.4,600.6 2379.0,601.0 2379.6,596.7 2380.2,601.5 2380.8,595.8 2381.4,602.5 2382.0,603.1 2382.6,603.2 2383.2,599.6 2383.8,604.1 2384.4,600.4 2385.0,599.8 2385.6,600.3 2386.2,600.7 2386.8,602.8 2387.4,604.2 2388.0,598.3 2388.6,601.5 2389.2,604.5 2389.8,603.2 2390.4,603.9 2391.0,599.8 2391.6,604.9 2392.2,599.8 2392.8,603.4 2393.4,605.9 2394.0,607.0 2394.6,604.3 2395.2,605.1 2395.8,602.1 2396.4,602.4 2397.0,605.8 2397.6,603.5 2398.2,603.3 2398.8,600.8 2399.4,604.0 2400.0,605.0 2400.6,602.2 2401.2,602.8 2401.8,607.1 2402.4,604.3 2403.0,603.4 2403.6,601.8 2404.2,602.9 2404.8,603.7 2405.4,607.0 2406.0,603.1 2406.6,608.0 2407.2,602.6 2407.8,603.8 2408.4,606.3 2409.0,604.2 2409.6,603.0 2410.2,604.5 2410.8,605.7 2411.4,601.5 2412.0,604.5 2412.6,604.8 2413.2,604.3 2413.8,606.6 2414.4,604.1 2415.0,604.6 2415.6,605.5 2416.2,606.9 2416.8,605.1 2417.4,608.6 2418.0,603.8 2418.6,608.3 2419.2,604.1 2419.8,605.2 2420.4,606.6 2421.0,610.0 2421.6,607.8 2422.2,605.3 2422.8,608.7 2423.4,605.7 2424.0,604.7 2424.6,607.2 2425.2,606.7 2425.8,608.3 2426.4,605.3 2427.0,607.2 2427.6,607.8 2428.2,607.1 2428.8,606.5 2429.4,605.3 2430.0,608.4 2430.6,607.0 2431.2,607.7 2431.8,606.1 2432.4,606.8 2433.0,604.8 2433.6,607.1 2434.2,608.4 2434.8,607.1 2435.4,608.7 2436.0,607.7 2436.6,609.7 2437.2,606.7 2437.8,603.9 2438.4,608.0 2439.0,606.9 2439.6,605.3 2440.2,608.5 2440.8,607.8 2441.4,608.2 2442.0,606.7 2442.6,607.8 2443.2,607.9 2443.8,610.9 2444.4,606.1 2445.0,607.5 2445.6,608.2 2446.2,604.2 2446.8,604.5 2447.4,611.8 2448.0,604.2 2448.6,608.8 2449.2,606.0 2449.8,606.2 2450.4,603.8 2451.0,606.0 2451.6,609.3 2452.2,605.1 2452.8,608.9 2453.4,608.4" fill="none" stroke="#000" stroke-width="2" stroke-linejoin="round" marker-start="url(#mk)" marker-mid="url(#mk)" marker-end="url(#mk)"/>
<rect x="94.7" y="80.0" width="714.3" height="576.5" fill="none" stroke="#000" stroke-width="5.4"/>
<rect x="917.5" y="80.0" width="714.3" height="576.5" fill="none" stroke="#000" stroke-width="5.4"/>
<rect x="330.2" y="645" width="5.2" height="10" fill="#000"/>
<rect x="568.3" y="645" width="5.2" height="10" fill="#000"/>
<text x="94.7" y="700.6" font-size="42" text-anchor="middle">700</text>
<text x="332.8" y="700.6" font-size="42" text-anchor="middle">750</text>
<text x="570.9" y="700.6" font-size="42" text-anchor="middle">800</text>
<text x="809.0" y="700.6" font-size="42" text-anchor="middle">850</text>
<text x="451.8" y="773.0" font-size="51.5" text-anchor="middle">Wavelength (nm)</text>
<rect x="1153.0" y="645" width="5.2" height="10" fill="#000"/>
<rect x="1391.1" y="645" width="5.2" height="10" fill="#000"/>
<text x="917.5" y="700.6" font-size="42" text-anchor="middle">700</text>
<text x="1155.6" y="700.6" font-size="42" text-anchor="middle">750</text>
<text x="1393.7" y="700.6" font-size="42" text-anchor="middle">800</text>
<text x="1631.8" y="700.6" font-size="42" text-anchor="middle">850</text>
<text x="1275.3" y="773.0" font-size="50.8" text-anchor="middle">Wavelength (nm)</text>
<rect x="2215.0" y="645" width="5.2" height="10" fill="#000"/>
<text x="1740.3" y="700.6" font-size="42" text-anchor="middle">0</text>
<text x="2217.6" y="700.6" font-size="42" text-anchor="middle">100</text>
<text x="2098.3" y="773.5" font-size="50.8" text-anchor="middle">Wavelength (nm)</text>
<text transform="translate(65.0,368) rotate(-90)" font-size="51.3" text-anchor="middle">PL Intensity (a.u.)</text>
<text transform="translate(887.4,368) rotate(-90)" font-size="51.3" text-anchor="middle">PL Intensity (a.u.)</text>
<text transform="translate(1709.8,366.5) rotate(-90)" font-size="51.3" text-anchor="middle">PL Intensity (a.u.)</text>
<text x="51.6" y="59.5" font-size="60" text-anchor="middle">(a)</text>
<text x="873" y="54" font-size="60" text-anchor="middle">(b)</text>
<text x="1703.5" y="59.5" font-size="60" text-anchor="middle">(c)</text>
<line x1="532" y1="245.8" x2="579.5" y2="245.8" stroke="#000" stroke-width="7.5" stroke-linecap="round"/>
<line x1="532" y1="297.5" x2="579.5" y2="297.5" stroke="#f00" stroke-width="7.5" stroke-linecap="round"/>
<text x="587.5" y="251.7" font-size="42.5" text-anchor="start">Reference</text>
<text x="590.5" y="303.7" font-size="42.5" text-anchor="start">GABr</text>
<line x1="1383.5" y1="191.1" x2="1431.5" y2="191.1" stroke="#000" stroke-width="7.5" stroke-linecap="round"/>
<line x1="1383.5" y1="244.3" x2="1431.5" y2="244.3" stroke="#f00" stroke-width="7.5" stroke-linecap="round"/>
<text x="1440.3" y="197.3" font-size="42.5" text-anchor="start">Reference</text>
<text x="1443.3" y="250.3" font-size="42.5" text-anchor="start">GABr</text>
<line x1="2195.8" y1="409.6" x2="2246.4" y2="409.6" stroke="#000" stroke-width="3"/>
<circle cx="2221" cy="409.6" r="3.8" fill="#000"/>
<line x1="2195.8" y1="461.8" x2="2246.4" y2="461.8" stroke="#f00" stroke-width="3"/>
<circle cx="2221" cy="461.8" r="3.8" fill="#f00"/>
<text x="2255.2" y="415.1" font-size="42.5" text-anchor="start">Reference</text>
<text x="2256.5" y="467.8" font-size="42.5" text-anchor="start">GABr</text>
<line x1="1825.7" y1="129.7" x2="2441" y2="129.7" stroke="#666" stroke-width="1.8"/>
<line x1="1825.7" y1="172.2" x2="2441" y2="172.2" stroke="#666" stroke-width="1.8"/>
<line x1="1825.7" y1="257.8" x2="2441" y2="257.8" stroke="#666" stroke-width="1.8"/>
<text x="1834.6" y="160.8" font-size="27.8" text-anchor="start" font-weight="bold">Sample</text>
<text x="1952.7" y="160.8" font-size="27.8" text-anchor="start" font-weight="bold">τ<tspan font-size="18.9" dy="6">1</tspan><tspan dy="-6"> </tspan><tspan dx="4.2">(ns)</tspan></text>
<text x="2041.4" y="160.8" font-size="27.8" text-anchor="start" font-weight="bold">A<tspan font-size="18.9" dy="6">1</tspan><tspan dy="-6"> (%)</tspan></text>
<text x="2142.7" y="160.8" font-size="27.8" text-anchor="start" font-weight="bold">τ<tspan font-size="18.9" dy="6">2</tspan><tspan dy="-6"> (ns)</tspan></text>
<text x="2237" y="160.8" font-size="27.8" text-anchor="start" font-weight="bold">A<tspan font-size="18.9" dy="6">2</tspan><tspan dy="-6"> (%)</tspan></text>
<text x="2336.5" y="160.8" font-size="27.8" text-anchor="start" font-weight="bold">τ<tspan font-size="18.9" dy="6">ave</tspan><tspan dy="-6"> (ns)</tspan></text>
<text x="1834.6" y="198.6" font-size="23.3" text-anchor="start" font-weight="bold">Reference</text>
<text x="1952.7" y="198.6" font-size="23.3" text-anchor="start" font-weight="bold">37.08</text>
<text x="2041.4" y="198.6" font-size="23.3" text-anchor="start" font-weight="bold">41.08</text>
<text x="2142.7" y="198.6" font-size="23.3" text-anchor="start" font-weight="bold">122.3</text>
<text x="2237" y="198.6" font-size="23.3" text-anchor="start" font-weight="bold">58.92</text>
<text x="2336.5" y="198.6" font-size="23.3" text-anchor="start" font-weight="bold">107.4</text>
<text x="1834.6" y="247.8" font-size="23.3" text-anchor="start" font-weight="bold">GABr</text>
<text x="1952.7" y="247.8" font-size="23.3" text-anchor="start" font-weight="bold">48.83</text>
<text x="2041.4" y="247.8" font-size="23.3" text-anchor="start" font-weight="bold">43.40</text>
<text x="2142.7" y="247.8" font-size="23.3" text-anchor="start" font-weight="bold">165.3</text>
<text x="2237" y="247.8" font-size="23.3" text-anchor="start" font-weight="bold">56.60</text>
<text x="2336.5" y="247.8" font-size="23.3" text-anchor="start" font-weight="bold">143.8</text>
</svg>
</body></html>
